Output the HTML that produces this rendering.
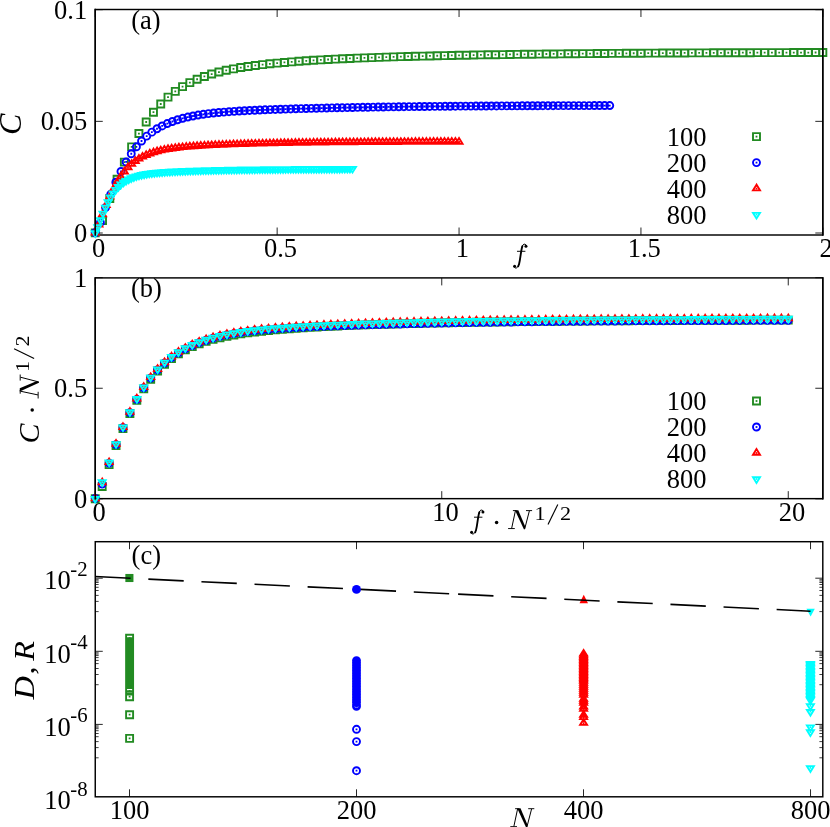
<!DOCTYPE html>
<html><head><meta charset="utf-8"><title>Figure</title>
<style>html,body{margin:0;padding:0;background:#fff;}body{width:830px;height:827px;overflow:hidden;font-family:"Liberation Serif",serif;}svg{display:block;will-change:transform;}.fig text{font-family:"Liberation Serif",serif;}</style>
</head><body>
<svg width="830" height="827" viewBox="0 0 830 827" class="fig" fill="#000">
<rect x="95.25" y="9.5" width="727.55" height="225.5" fill="none" stroke="#000" stroke-width="1.45"/>
<path d="M95.25 235.0v-7.5M95.25 9.5v7.5M277.15 235.0v-7.5M277.15 9.5v7.5M459.05 235.0v-7.5M459.05 9.5v7.5M640.95 235.0v-7.5M640.95 9.5v7.5M822.85 235.0v-7.5M822.85 9.5v7.5" stroke="#000" stroke-width="0.85" fill="none"/>
<path d="M95.25 233h7.5M822.8 233h-7.5M95.25 121.35h7.5M822.8 121.35h-7.5M95.25 9.7h7.5M822.8 9.7h-7.5" stroke="#000" stroke-width="0.85" fill="none"/>
<text x="98.55" y="257.3" text-anchor="middle" font-size="26.5"  >0</text>
<text x="280.45" y="257.3" text-anchor="middle" font-size="26.5"  >0.5</text>
<text x="462.35" y="257.3" text-anchor="middle" font-size="26.5"  >1</text>
<text x="644.25" y="257.3" text-anchor="middle" font-size="26.5"  >1.5</text>
<text x="826.15" y="257.3" text-anchor="middle" font-size="26.5"  >2</text>
<text x="87.2" y="241.9" text-anchor="end" font-size="26.5"  >0</text>
<text x="87.2" y="130.25" text-anchor="end" font-size="26.5"  >0.05</text>
<text x="87.2" y="18.6" text-anchor="end" font-size="26.5"  >0.1</text>
<text x="146" y="28.9" text-anchor="middle" font-size="26.5"  >(a)</text>
<path d="M91.75 229.39h7.0v7.0h-7.0zM99.03 217.08h7.0v7.0h-7.0zM106.3 194.95h7.0v7.0h-7.0zM113.58 175.7h7.0v7.0h-7.0zM120.85 158.6h7.0v7.0h-7.0zM128.13 143.4h7.0v7.0h-7.0zM135.41 130.06h7.0v7.0h-7.0zM142.68 118.52h7.0v7.0h-7.0zM149.96 108.71h7.0v7.0h-7.0zM157.23 100.48h7.0v7.0h-7.0zM164.51 93.61h7.0v7.0h-7.0zM171.79 87.89h7.0v7.0h-7.0zM179.06 83.12h7.0v7.0h-7.0zM186.34 79.13h7.0v7.0h-7.0zM193.61 75.77h7.0v7.0h-7.0zM200.89 72.94h7.0v7.0h-7.0zM208.17 70.55h7.0v7.0h-7.0zM215.44 68.53h7.0v7.0h-7.0zM222.72 66.81h7.0v7.0h-7.0zM229.99 65.34h7.0v7.0h-7.0zM237.27 64.07h7.0v7.0h-7.0zM244.55 62.96h7.0v7.0h-7.0zM251.82 61.97h7.0v7.0h-7.0zM259.1 61.1h7.0v7.0h-7.0zM266.37 60.31h7.0v7.0h-7.0zM273.65 59.6h7.0v7.0h-7.0zM280.93 58.94h7.0v7.0h-7.0zM288.2 58.34h7.0v7.0h-7.0zM295.48 57.79h7.0v7.0h-7.0zM302.75 57.28h7.0v7.0h-7.0zM310.03 56.81h7.0v7.0h-7.0zM317.31 56.38h7.0v7.0h-7.0zM324.58 55.98h7.0v7.0h-7.0zM331.86 55.6h7.0v7.0h-7.0zM339.13 55.26h7.0v7.0h-7.0zM346.41 54.93h7.0v7.0h-7.0zM353.69 54.63h7.0v7.0h-7.0zM360.96 54.35h7.0v7.0h-7.0zM368.24 54.09h7.0v7.0h-7.0zM375.51 53.84h7.0v7.0h-7.0zM382.79 53.6h7.0v7.0h-7.0zM390.07 53.38h7.0v7.0h-7.0zM397.34 53.17h7.0v7.0h-7.0zM404.62 52.97h7.0v7.0h-7.0zM411.89 52.78h7.0v7.0h-7.0zM419.17 52.6h7.0v7.0h-7.0zM426.45 52.43h7.0v7.0h-7.0zM433.72 52.26h7.0v7.0h-7.0zM441 52.11h7.0v7.0h-7.0zM448.27 51.96h7.0v7.0h-7.0zM455.55 51.81h7.0v7.0h-7.0zM462.83 51.68h7.0v7.0h-7.0zM470.1 51.55h7.0v7.0h-7.0zM477.38 51.42h7.0v7.0h-7.0zM484.65 51.3h7.0v7.0h-7.0zM491.93 51.19h7.0v7.0h-7.0zM499.21 51.08h7.0v7.0h-7.0zM506.48 50.97h7.0v7.0h-7.0zM513.76 50.87h7.0v7.0h-7.0zM521.03 50.78h7.0v7.0h-7.0zM528.31 50.68h7.0v7.0h-7.0zM535.59 50.6h7.0v7.0h-7.0zM542.86 50.51h7.0v7.0h-7.0zM550.14 50.43h7.0v7.0h-7.0zM557.41 50.35h7.0v7.0h-7.0zM564.69 50.28h7.0v7.0h-7.0zM571.97 50.21h7.0v7.0h-7.0zM579.24 50.14h7.0v7.0h-7.0zM586.52 50.08h7.0v7.0h-7.0zM593.79 50.02h7.0v7.0h-7.0zM601.07 49.96h7.0v7.0h-7.0zM608.35 49.9h7.0v7.0h-7.0zM615.62 49.85h7.0v7.0h-7.0zM622.9 49.8h7.0v7.0h-7.0zM630.17 49.75h7.0v7.0h-7.0zM637.45 49.7h7.0v7.0h-7.0zM644.73 49.65h7.0v7.0h-7.0zM652 49.61h7.0v7.0h-7.0zM659.28 49.57h7.0v7.0h-7.0zM666.55 49.53h7.0v7.0h-7.0zM673.83 49.49h7.0v7.0h-7.0zM681.11 49.45h7.0v7.0h-7.0zM688.38 49.42h7.0v7.0h-7.0zM695.66 49.39h7.0v7.0h-7.0zM702.93 49.35h7.0v7.0h-7.0zM710.21 49.32h7.0v7.0h-7.0zM717.49 49.3h7.0v7.0h-7.0zM724.76 49.27h7.0v7.0h-7.0zM732.04 49.24h7.0v7.0h-7.0zM739.31 49.21h7.0v7.0h-7.0zM746.59 49.19h7.0v7.0h-7.0zM753.87 49.17h7.0v7.0h-7.0zM761.14 49.14h7.0v7.0h-7.0zM768.42 49.12h7.0v7.0h-7.0zM775.69 49.1h7.0v7.0h-7.0zM782.97 49.08h7.0v7.0h-7.0zM790.25 49.06h7.0v7.0h-7.0zM797.52 49.05h7.0v7.0h-7.0zM804.8 49.03h7.0v7.0h-7.0zM812.07 49.01h7.0v7.0h-7.0zM819.35 49h7.0v7.0h-7.0z" fill="none" stroke="#228b22" stroke-width="1.9" stroke-linejoin="miter"/>
<path d="M94.35 231.99h1.8v1.8h-1.8zM101.63 219.68h1.8v1.8h-1.8zM108.9 197.55h1.8v1.8h-1.8zM116.18 178.3h1.8v1.8h-1.8zM123.45 161.2h1.8v1.8h-1.8zM130.73 146h1.8v1.8h-1.8zM138.01 132.66h1.8v1.8h-1.8zM145.28 121.12h1.8v1.8h-1.8zM152.56 111.31h1.8v1.8h-1.8zM159.83 103.08h1.8v1.8h-1.8zM167.11 96.21h1.8v1.8h-1.8zM174.39 90.49h1.8v1.8h-1.8zM181.66 85.72h1.8v1.8h-1.8zM188.94 81.73h1.8v1.8h-1.8zM196.21 78.37h1.8v1.8h-1.8zM203.49 75.54h1.8v1.8h-1.8zM210.77 73.15h1.8v1.8h-1.8zM218.04 71.13h1.8v1.8h-1.8zM225.32 69.41h1.8v1.8h-1.8zM232.59 67.94h1.8v1.8h-1.8zM239.87 66.67h1.8v1.8h-1.8zM247.15 65.56h1.8v1.8h-1.8zM254.42 64.57h1.8v1.8h-1.8zM261.7 63.7h1.8v1.8h-1.8zM268.97 62.91h1.8v1.8h-1.8zM276.25 62.2h1.8v1.8h-1.8zM283.53 61.54h1.8v1.8h-1.8zM290.8 60.94h1.8v1.8h-1.8zM298.08 60.39h1.8v1.8h-1.8zM305.35 59.88h1.8v1.8h-1.8zM312.63 59.41h1.8v1.8h-1.8zM319.91 58.98h1.8v1.8h-1.8zM327.18 58.58h1.8v1.8h-1.8zM334.46 58.2h1.8v1.8h-1.8zM341.73 57.86h1.8v1.8h-1.8zM349.01 57.53h1.8v1.8h-1.8zM356.29 57.23h1.8v1.8h-1.8zM363.56 56.95h1.8v1.8h-1.8zM370.84 56.69h1.8v1.8h-1.8zM378.11 56.44h1.8v1.8h-1.8zM385.39 56.2h1.8v1.8h-1.8zM392.67 55.98h1.8v1.8h-1.8zM399.94 55.77h1.8v1.8h-1.8zM407.22 55.57h1.8v1.8h-1.8zM414.49 55.38h1.8v1.8h-1.8zM421.77 55.2h1.8v1.8h-1.8zM429.05 55.03h1.8v1.8h-1.8zM436.32 54.86h1.8v1.8h-1.8zM443.6 54.71h1.8v1.8h-1.8zM450.87 54.56h1.8v1.8h-1.8zM458.15 54.41h1.8v1.8h-1.8zM465.43 54.28h1.8v1.8h-1.8zM472.7 54.15h1.8v1.8h-1.8zM479.98 54.02h1.8v1.8h-1.8zM487.25 53.9h1.8v1.8h-1.8zM494.53 53.79h1.8v1.8h-1.8zM501.81 53.68h1.8v1.8h-1.8zM509.08 53.57h1.8v1.8h-1.8zM516.36 53.47h1.8v1.8h-1.8zM523.63 53.38h1.8v1.8h-1.8zM530.91 53.28h1.8v1.8h-1.8zM538.19 53.2h1.8v1.8h-1.8zM545.46 53.11h1.8v1.8h-1.8zM552.74 53.03h1.8v1.8h-1.8zM560.01 52.95h1.8v1.8h-1.8zM567.29 52.88h1.8v1.8h-1.8zM574.57 52.81h1.8v1.8h-1.8zM581.84 52.74h1.8v1.8h-1.8zM589.12 52.68h1.8v1.8h-1.8zM596.39 52.62h1.8v1.8h-1.8zM603.67 52.56h1.8v1.8h-1.8zM610.95 52.5h1.8v1.8h-1.8zM618.22 52.45h1.8v1.8h-1.8zM625.5 52.4h1.8v1.8h-1.8zM632.77 52.35h1.8v1.8h-1.8zM640.05 52.3h1.8v1.8h-1.8zM647.33 52.25h1.8v1.8h-1.8zM654.6 52.21h1.8v1.8h-1.8zM661.88 52.17h1.8v1.8h-1.8zM669.15 52.13h1.8v1.8h-1.8zM676.43 52.09h1.8v1.8h-1.8zM683.71 52.05h1.8v1.8h-1.8zM690.98 52.02h1.8v1.8h-1.8zM698.26 51.99h1.8v1.8h-1.8zM705.53 51.95h1.8v1.8h-1.8zM712.81 51.92h1.8v1.8h-1.8zM720.09 51.9h1.8v1.8h-1.8zM727.36 51.87h1.8v1.8h-1.8zM734.64 51.84h1.8v1.8h-1.8zM741.91 51.81h1.8v1.8h-1.8zM749.19 51.79h1.8v1.8h-1.8zM756.47 51.77h1.8v1.8h-1.8zM763.74 51.74h1.8v1.8h-1.8zM771.02 51.72h1.8v1.8h-1.8zM778.29 51.7h1.8v1.8h-1.8zM785.57 51.68h1.8v1.8h-1.8zM792.85 51.66h1.8v1.8h-1.8zM800.12 51.65h1.8v1.8h-1.8zM807.4 51.63h1.8v1.8h-1.8zM814.67 51.61h1.8v1.8h-1.8zM821.95 51.6h1.8v1.8h-1.8z" fill="#228b22"/>
<path d="M91.75 232.77a3.5 3.5 0 1 0 7.0 0a3.5 3.5 0 1 0 -7.0 0zM96.89 222.45a3.5 3.5 0 1 0 7.0 0a3.5 3.5 0 1 0 -7.0 0zM102.04 207.59a3.5 3.5 0 1 0 7.0 0a3.5 3.5 0 1 0 -7.0 0zM107.18 194.28a3.5 3.5 0 1 0 7.0 0a3.5 3.5 0 1 0 -7.0 0zM112.33 182.25a3.5 3.5 0 1 0 7.0 0a3.5 3.5 0 1 0 -7.0 0zM117.47 171.46a3.5 3.5 0 1 0 7.0 0a3.5 3.5 0 1 0 -7.0 0zM122.62 161.96a3.5 3.5 0 1 0 7.0 0a3.5 3.5 0 1 0 -7.0 0zM127.76 153.76a3.5 3.5 0 1 0 7.0 0a3.5 3.5 0 1 0 -7.0 0zM132.91 146.8a3.5 3.5 0 1 0 7.0 0a3.5 3.5 0 1 0 -7.0 0zM138.05 140.98a3.5 3.5 0 1 0 7.0 0a3.5 3.5 0 1 0 -7.0 0zM143.2 136.15a3.5 3.5 0 1 0 7.0 0a3.5 3.5 0 1 0 -7.0 0zM148.34 132.13a3.5 3.5 0 1 0 7.0 0a3.5 3.5 0 1 0 -7.0 0zM153.49 128.77a3.5 3.5 0 1 0 7.0 0a3.5 3.5 0 1 0 -7.0 0zM158.63 125.93a3.5 3.5 0 1 0 7.0 0a3.5 3.5 0 1 0 -7.0 0zM163.78 123.53a3.5 3.5 0 1 0 7.0 0a3.5 3.5 0 1 0 -7.0 0zM168.92 121.49a3.5 3.5 0 1 0 7.0 0a3.5 3.5 0 1 0 -7.0 0zM174.07 119.76a3.5 3.5 0 1 0 7.0 0a3.5 3.5 0 1 0 -7.0 0zM179.21 118.29a3.5 3.5 0 1 0 7.0 0a3.5 3.5 0 1 0 -7.0 0zM184.36 117.04a3.5 3.5 0 1 0 7.0 0a3.5 3.5 0 1 0 -7.0 0zM189.5 115.98a3.5 3.5 0 1 0 7.0 0a3.5 3.5 0 1 0 -7.0 0zM194.65 115.07a3.5 3.5 0 1 0 7.0 0a3.5 3.5 0 1 0 -7.0 0zM199.79 114.29a3.5 3.5 0 1 0 7.0 0a3.5 3.5 0 1 0 -7.0 0zM204.94 113.62a3.5 3.5 0 1 0 7.0 0a3.5 3.5 0 1 0 -7.0 0zM210.08 113.04a3.5 3.5 0 1 0 7.0 0a3.5 3.5 0 1 0 -7.0 0zM215.23 112.53a3.5 3.5 0 1 0 7.0 0a3.5 3.5 0 1 0 -7.0 0zM220.37 112.08a3.5 3.5 0 1 0 7.0 0a3.5 3.5 0 1 0 -7.0 0zM225.52 111.69a3.5 3.5 0 1 0 7.0 0a3.5 3.5 0 1 0 -7.0 0zM230.66 111.33a3.5 3.5 0 1 0 7.0 0a3.5 3.5 0 1 0 -7.0 0zM235.81 111.02a3.5 3.5 0 1 0 7.0 0a3.5 3.5 0 1 0 -7.0 0zM240.95 110.73a3.5 3.5 0 1 0 7.0 0a3.5 3.5 0 1 0 -7.0 0zM246.1 110.47a3.5 3.5 0 1 0 7.0 0a3.5 3.5 0 1 0 -7.0 0zM251.24 110.23a3.5 3.5 0 1 0 7.0 0a3.5 3.5 0 1 0 -7.0 0zM256.39 110.02a3.5 3.5 0 1 0 7.0 0a3.5 3.5 0 1 0 -7.0 0zM261.53 109.81a3.5 3.5 0 1 0 7.0 0a3.5 3.5 0 1 0 -7.0 0zM266.68 109.62a3.5 3.5 0 1 0 7.0 0a3.5 3.5 0 1 0 -7.0 0zM271.82 109.44a3.5 3.5 0 1 0 7.0 0a3.5 3.5 0 1 0 -7.0 0zM276.97 109.27a3.5 3.5 0 1 0 7.0 0a3.5 3.5 0 1 0 -7.0 0zM282.11 109.11a3.5 3.5 0 1 0 7.0 0a3.5 3.5 0 1 0 -7.0 0zM287.26 108.96a3.5 3.5 0 1 0 7.0 0a3.5 3.5 0 1 0 -7.0 0zM292.4 108.81a3.5 3.5 0 1 0 7.0 0a3.5 3.5 0 1 0 -7.0 0zM297.55 108.67a3.5 3.5 0 1 0 7.0 0a3.5 3.5 0 1 0 -7.0 0zM302.69 108.53a3.5 3.5 0 1 0 7.0 0a3.5 3.5 0 1 0 -7.0 0zM307.84 108.4a3.5 3.5 0 1 0 7.0 0a3.5 3.5 0 1 0 -7.0 0zM312.98 108.27a3.5 3.5 0 1 0 7.0 0a3.5 3.5 0 1 0 -7.0 0zM318.13 108.15a3.5 3.5 0 1 0 7.0 0a3.5 3.5 0 1 0 -7.0 0zM323.27 108.04a3.5 3.5 0 1 0 7.0 0a3.5 3.5 0 1 0 -7.0 0zM328.42 107.92a3.5 3.5 0 1 0 7.0 0a3.5 3.5 0 1 0 -7.0 0zM333.56 107.81a3.5 3.5 0 1 0 7.0 0a3.5 3.5 0 1 0 -7.0 0zM338.71 107.71a3.5 3.5 0 1 0 7.0 0a3.5 3.5 0 1 0 -7.0 0zM343.85 107.61a3.5 3.5 0 1 0 7.0 0a3.5 3.5 0 1 0 -7.0 0zM349 107.51a3.5 3.5 0 1 0 7.0 0a3.5 3.5 0 1 0 -7.0 0zM354.14 107.41a3.5 3.5 0 1 0 7.0 0a3.5 3.5 0 1 0 -7.0 0zM359.29 107.32a3.5 3.5 0 1 0 7.0 0a3.5 3.5 0 1 0 -7.0 0zM364.43 107.24a3.5 3.5 0 1 0 7.0 0a3.5 3.5 0 1 0 -7.0 0zM369.58 107.15a3.5 3.5 0 1 0 7.0 0a3.5 3.5 0 1 0 -7.0 0zM374.72 107.07a3.5 3.5 0 1 0 7.0 0a3.5 3.5 0 1 0 -7.0 0zM379.86 107a3.5 3.5 0 1 0 7.0 0a3.5 3.5 0 1 0 -7.0 0zM385.01 106.92a3.5 3.5 0 1 0 7.0 0a3.5 3.5 0 1 0 -7.0 0zM390.15 106.85a3.5 3.5 0 1 0 7.0 0a3.5 3.5 0 1 0 -7.0 0zM395.3 106.79a3.5 3.5 0 1 0 7.0 0a3.5 3.5 0 1 0 -7.0 0zM400.44 106.72a3.5 3.5 0 1 0 7.0 0a3.5 3.5 0 1 0 -7.0 0zM405.59 106.66a3.5 3.5 0 1 0 7.0 0a3.5 3.5 0 1 0 -7.0 0zM410.73 106.6a3.5 3.5 0 1 0 7.0 0a3.5 3.5 0 1 0 -7.0 0zM415.88 106.54a3.5 3.5 0 1 0 7.0 0a3.5 3.5 0 1 0 -7.0 0zM421.02 106.49a3.5 3.5 0 1 0 7.0 0a3.5 3.5 0 1 0 -7.0 0zM426.17 106.44a3.5 3.5 0 1 0 7.0 0a3.5 3.5 0 1 0 -7.0 0zM431.31 106.39a3.5 3.5 0 1 0 7.0 0a3.5 3.5 0 1 0 -7.0 0zM436.46 106.34a3.5 3.5 0 1 0 7.0 0a3.5 3.5 0 1 0 -7.0 0zM441.6 106.3a3.5 3.5 0 1 0 7.0 0a3.5 3.5 0 1 0 -7.0 0zM446.75 106.25a3.5 3.5 0 1 0 7.0 0a3.5 3.5 0 1 0 -7.0 0zM451.89 106.21a3.5 3.5 0 1 0 7.0 0a3.5 3.5 0 1 0 -7.0 0zM457.04 106.17a3.5 3.5 0 1 0 7.0 0a3.5 3.5 0 1 0 -7.0 0zM462.18 106.13a3.5 3.5 0 1 0 7.0 0a3.5 3.5 0 1 0 -7.0 0zM467.33 106.1a3.5 3.5 0 1 0 7.0 0a3.5 3.5 0 1 0 -7.0 0zM472.47 106.06a3.5 3.5 0 1 0 7.0 0a3.5 3.5 0 1 0 -7.0 0zM477.62 106.03a3.5 3.5 0 1 0 7.0 0a3.5 3.5 0 1 0 -7.0 0zM482.76 106a3.5 3.5 0 1 0 7.0 0a3.5 3.5 0 1 0 -7.0 0zM487.91 105.96a3.5 3.5 0 1 0 7.0 0a3.5 3.5 0 1 0 -7.0 0zM493.05 105.94a3.5 3.5 0 1 0 7.0 0a3.5 3.5 0 1 0 -7.0 0zM498.2 105.91a3.5 3.5 0 1 0 7.0 0a3.5 3.5 0 1 0 -7.0 0zM503.34 105.88a3.5 3.5 0 1 0 7.0 0a3.5 3.5 0 1 0 -7.0 0zM508.49 105.85a3.5 3.5 0 1 0 7.0 0a3.5 3.5 0 1 0 -7.0 0zM513.63 105.83a3.5 3.5 0 1 0 7.0 0a3.5 3.5 0 1 0 -7.0 0zM518.78 105.81a3.5 3.5 0 1 0 7.0 0a3.5 3.5 0 1 0 -7.0 0zM523.92 105.78a3.5 3.5 0 1 0 7.0 0a3.5 3.5 0 1 0 -7.0 0zM529.07 105.76a3.5 3.5 0 1 0 7.0 0a3.5 3.5 0 1 0 -7.0 0zM534.21 105.74a3.5 3.5 0 1 0 7.0 0a3.5 3.5 0 1 0 -7.0 0zM539.36 105.72a3.5 3.5 0 1 0 7.0 0a3.5 3.5 0 1 0 -7.0 0zM544.5 105.7a3.5 3.5 0 1 0 7.0 0a3.5 3.5 0 1 0 -7.0 0zM549.65 105.69a3.5 3.5 0 1 0 7.0 0a3.5 3.5 0 1 0 -7.0 0zM554.79 105.67a3.5 3.5 0 1 0 7.0 0a3.5 3.5 0 1 0 -7.0 0zM559.94 105.65a3.5 3.5 0 1 0 7.0 0a3.5 3.5 0 1 0 -7.0 0zM565.08 105.64a3.5 3.5 0 1 0 7.0 0a3.5 3.5 0 1 0 -7.0 0zM570.23 105.62a3.5 3.5 0 1 0 7.0 0a3.5 3.5 0 1 0 -7.0 0zM575.37 105.61a3.5 3.5 0 1 0 7.0 0a3.5 3.5 0 1 0 -7.0 0zM580.52 105.59a3.5 3.5 0 1 0 7.0 0a3.5 3.5 0 1 0 -7.0 0zM585.66 105.58a3.5 3.5 0 1 0 7.0 0a3.5 3.5 0 1 0 -7.0 0zM590.81 105.57a3.5 3.5 0 1 0 7.0 0a3.5 3.5 0 1 0 -7.0 0zM595.95 105.55a3.5 3.5 0 1 0 7.0 0a3.5 3.5 0 1 0 -7.0 0zM601.1 105.54a3.5 3.5 0 1 0 7.0 0a3.5 3.5 0 1 0 -7.0 0zM606.24 105.53a3.5 3.5 0 1 0 7.0 0a3.5 3.5 0 1 0 -7.0 0z" fill="none" stroke="#0000ff" stroke-width="1.9" stroke-linejoin="miter"/>
<path d="M94.35 231.87h1.8v1.8h-1.8zM99.49 221.55h1.8v1.8h-1.8zM104.64 206.69h1.8v1.8h-1.8zM109.78 193.38h1.8v1.8h-1.8zM114.93 181.35h1.8v1.8h-1.8zM120.07 170.56h1.8v1.8h-1.8zM125.22 161.06h1.8v1.8h-1.8zM130.36 152.86h1.8v1.8h-1.8zM135.51 145.9h1.8v1.8h-1.8zM140.65 140.08h1.8v1.8h-1.8zM145.8 135.25h1.8v1.8h-1.8zM150.94 131.23h1.8v1.8h-1.8zM156.09 127.87h1.8v1.8h-1.8zM161.23 125.03h1.8v1.8h-1.8zM166.38 122.63h1.8v1.8h-1.8zM171.52 120.59h1.8v1.8h-1.8zM176.67 118.86h1.8v1.8h-1.8zM181.81 117.39h1.8v1.8h-1.8zM186.96 116.14h1.8v1.8h-1.8zM192.1 115.08h1.8v1.8h-1.8zM197.25 114.17h1.8v1.8h-1.8zM202.39 113.39h1.8v1.8h-1.8zM207.54 112.72h1.8v1.8h-1.8zM212.68 112.14h1.8v1.8h-1.8zM217.83 111.63h1.8v1.8h-1.8zM222.97 111.18h1.8v1.8h-1.8zM228.12 110.79h1.8v1.8h-1.8zM233.26 110.43h1.8v1.8h-1.8zM238.41 110.12h1.8v1.8h-1.8zM243.55 109.83h1.8v1.8h-1.8zM248.7 109.57h1.8v1.8h-1.8zM253.84 109.33h1.8v1.8h-1.8zM258.99 109.12h1.8v1.8h-1.8zM264.13 108.91h1.8v1.8h-1.8zM269.28 108.72h1.8v1.8h-1.8zM274.42 108.54h1.8v1.8h-1.8zM279.57 108.37h1.8v1.8h-1.8zM284.71 108.21h1.8v1.8h-1.8zM289.86 108.06h1.8v1.8h-1.8zM295 107.91h1.8v1.8h-1.8zM300.15 107.77h1.8v1.8h-1.8zM305.29 107.63h1.8v1.8h-1.8zM310.44 107.5h1.8v1.8h-1.8zM315.58 107.37h1.8v1.8h-1.8zM320.73 107.25h1.8v1.8h-1.8zM325.87 107.14h1.8v1.8h-1.8zM331.02 107.02h1.8v1.8h-1.8zM336.16 106.91h1.8v1.8h-1.8zM341.31 106.81h1.8v1.8h-1.8zM346.45 106.71h1.8v1.8h-1.8zM351.6 106.61h1.8v1.8h-1.8zM356.74 106.51h1.8v1.8h-1.8zM361.89 106.42h1.8v1.8h-1.8zM367.03 106.34h1.8v1.8h-1.8zM372.18 106.25h1.8v1.8h-1.8zM377.32 106.17h1.8v1.8h-1.8zM382.46 106.1h1.8v1.8h-1.8zM387.61 106.02h1.8v1.8h-1.8zM392.75 105.95h1.8v1.8h-1.8zM397.9 105.89h1.8v1.8h-1.8zM403.04 105.82h1.8v1.8h-1.8zM408.19 105.76h1.8v1.8h-1.8zM413.33 105.7h1.8v1.8h-1.8zM418.48 105.64h1.8v1.8h-1.8zM423.62 105.59h1.8v1.8h-1.8zM428.77 105.54h1.8v1.8h-1.8zM433.91 105.49h1.8v1.8h-1.8zM439.06 105.44h1.8v1.8h-1.8zM444.2 105.4h1.8v1.8h-1.8zM449.35 105.35h1.8v1.8h-1.8zM454.49 105.31h1.8v1.8h-1.8zM459.64 105.27h1.8v1.8h-1.8zM464.78 105.23h1.8v1.8h-1.8zM469.93 105.2h1.8v1.8h-1.8zM475.07 105.16h1.8v1.8h-1.8zM480.22 105.13h1.8v1.8h-1.8zM485.36 105.1h1.8v1.8h-1.8zM490.51 105.06h1.8v1.8h-1.8zM495.65 105.04h1.8v1.8h-1.8zM500.8 105.01h1.8v1.8h-1.8zM505.94 104.98h1.8v1.8h-1.8zM511.09 104.95h1.8v1.8h-1.8zM516.23 104.93h1.8v1.8h-1.8zM521.38 104.91h1.8v1.8h-1.8zM526.52 104.88h1.8v1.8h-1.8zM531.67 104.86h1.8v1.8h-1.8zM536.81 104.84h1.8v1.8h-1.8zM541.96 104.82h1.8v1.8h-1.8zM547.1 104.8h1.8v1.8h-1.8zM552.25 104.79h1.8v1.8h-1.8zM557.39 104.77h1.8v1.8h-1.8zM562.54 104.75h1.8v1.8h-1.8zM567.68 104.74h1.8v1.8h-1.8zM572.83 104.72h1.8v1.8h-1.8zM577.97 104.71h1.8v1.8h-1.8zM583.12 104.69h1.8v1.8h-1.8zM588.26 104.68h1.8v1.8h-1.8zM593.41 104.67h1.8v1.8h-1.8zM598.55 104.65h1.8v1.8h-1.8zM603.7 104.64h1.8v1.8h-1.8zM608.84 104.63h1.8v1.8h-1.8z" fill="#0000ff"/>
<path d="M95.25 228.99l-3.5 5.67h7zM98.89 220.88l-3.5 5.67h7zM102.53 210.71l-3.5 5.67h7zM106.16 201.41l-3.5 5.67h7zM109.8 192.92l-3.5 5.67h7zM113.44 185.28l-3.5 5.67h7zM117.08 178.54l-3.5 5.67h7zM120.72 172.71l-3.5 5.67h7zM124.35 167.77l-3.5 5.67h7zM127.99 163.64l-3.5 5.67h7zM131.63 160.22l-3.5 5.67h7zM135.27 157.37l-3.5 5.67h7zM138.91 154.99l-3.5 5.67h7zM142.54 152.99l-3.5 5.67h7zM146.18 151.29l-3.5 5.67h7zM149.82 149.86l-3.5 5.67h7zM153.46 148.64l-3.5 5.67h7zM157.1 147.6l-3.5 5.67h7zM160.73 146.72l-3.5 5.67h7zM164.37 145.97l-3.5 5.67h7zM168.01 145.32l-3.5 5.67h7zM171.65 144.76l-3.5 5.67h7zM175.29 144.28l-3.5 5.67h7zM178.92 143.85l-3.5 5.67h7zM182.56 143.48l-3.5 5.67h7zM186.2 143.14l-3.5 5.67h7zM189.84 142.84l-3.5 5.67h7zM193.48 142.57l-3.5 5.67h7zM197.11 142.32l-3.5 5.67h7zM200.75 142.09l-3.5 5.67h7zM204.39 141.88l-3.5 5.67h7zM208.03 141.68l-3.5 5.67h7zM211.67 141.5l-3.5 5.67h7zM215.3 141.33l-3.5 5.67h7zM218.94 141.17l-3.5 5.67h7zM222.58 141.02l-3.5 5.67h7zM226.22 140.88l-3.5 5.67h7zM229.86 140.74l-3.5 5.67h7zM233.49 140.61l-3.5 5.67h7zM237.13 140.49l-3.5 5.67h7zM240.77 140.38l-3.5 5.67h7zM244.41 140.27l-3.5 5.67h7zM248.05 140.16l-3.5 5.67h7zM251.68 140.06l-3.5 5.67h7zM255.32 139.97l-3.5 5.67h7zM258.96 139.88l-3.5 5.67h7zM262.6 139.79l-3.5 5.67h7zM266.24 139.71l-3.5 5.67h7zM269.87 139.63l-3.5 5.67h7zM273.51 139.55l-3.5 5.67h7zM277.15 139.48l-3.5 5.67h7zM280.79 139.41l-3.5 5.67h7zM284.43 139.34l-3.5 5.67h7zM288.06 139.28l-3.5 5.67h7zM291.7 139.22l-3.5 5.67h7zM295.34 139.16l-3.5 5.67h7zM298.98 139.11l-3.5 5.67h7zM302.62 139.06l-3.5 5.67h7zM306.25 139.01l-3.5 5.67h7zM309.89 138.96l-3.5 5.67h7zM313.53 138.91l-3.5 5.67h7zM317.17 138.87l-3.5 5.67h7zM320.81 138.82l-3.5 5.67h7zM324.44 138.78l-3.5 5.67h7zM328.08 138.74l-3.5 5.67h7zM331.72 138.71l-3.5 5.67h7zM335.36 138.67l-3.5 5.67h7zM339 138.64l-3.5 5.67h7zM342.63 138.61l-3.5 5.67h7zM346.27 138.57l-3.5 5.67h7zM349.91 138.54l-3.5 5.67h7zM353.55 138.52l-3.5 5.67h7zM357.19 138.49l-3.5 5.67h7zM360.82 138.46l-3.5 5.67h7zM364.46 138.44l-3.5 5.67h7zM368.1 138.41l-3.5 5.67h7zM371.74 138.39l-3.5 5.67h7zM375.38 138.37l-3.5 5.67h7zM379.01 138.35l-3.5 5.67h7zM382.65 138.33l-3.5 5.67h7zM386.29 138.31l-3.5 5.67h7zM389.93 138.29l-3.5 5.67h7zM393.57 138.27l-3.5 5.67h7zM397.2 138.26l-3.5 5.67h7zM400.84 138.24l-3.5 5.67h7zM404.48 138.22l-3.5 5.67h7zM408.12 138.21l-3.5 5.67h7zM411.76 138.2l-3.5 5.67h7zM415.39 138.18l-3.5 5.67h7zM419.03 138.17l-3.5 5.67h7zM422.67 138.16l-3.5 5.67h7zM426.31 138.15l-3.5 5.67h7zM429.95 138.13l-3.5 5.67h7zM433.58 138.12l-3.5 5.67h7zM437.22 138.11l-3.5 5.67h7zM440.86 138.1l-3.5 5.67h7zM444.5 138.09l-3.5 5.67h7zM448.14 138.08l-3.5 5.67h7zM451.77 138.08l-3.5 5.67h7zM455.41 138.07l-3.5 5.67h7zM459.05 138.06l-3.5 5.67h7z" fill="none" stroke="#ff0000" stroke-width="1.9" stroke-linejoin="miter"/>
<path d="M94.35 232.01h1.8v1.8h-1.8zM97.99 223.9h1.8v1.8h-1.8zM101.63 213.73h1.8v1.8h-1.8zM105.26 204.43h1.8v1.8h-1.8zM108.9 195.94h1.8v1.8h-1.8zM112.54 188.3h1.8v1.8h-1.8zM116.18 181.56h1.8v1.8h-1.8zM119.82 175.73h1.8v1.8h-1.8zM123.45 170.79h1.8v1.8h-1.8zM127.09 166.66h1.8v1.8h-1.8zM130.73 163.24h1.8v1.8h-1.8zM134.37 160.39h1.8v1.8h-1.8zM138.01 158.01h1.8v1.8h-1.8zM141.64 156.01h1.8v1.8h-1.8zM145.28 154.31h1.8v1.8h-1.8zM148.92 152.88h1.8v1.8h-1.8zM152.56 151.66h1.8v1.8h-1.8zM156.2 150.62h1.8v1.8h-1.8zM159.83 149.74h1.8v1.8h-1.8zM163.47 148.99h1.8v1.8h-1.8zM167.11 148.34h1.8v1.8h-1.8zM170.75 147.78h1.8v1.8h-1.8zM174.39 147.3h1.8v1.8h-1.8zM178.02 146.87h1.8v1.8h-1.8zM181.66 146.5h1.8v1.8h-1.8zM185.3 146.16h1.8v1.8h-1.8zM188.94 145.86h1.8v1.8h-1.8zM192.58 145.59h1.8v1.8h-1.8zM196.21 145.34h1.8v1.8h-1.8zM199.85 145.11h1.8v1.8h-1.8zM203.49 144.9h1.8v1.8h-1.8zM207.13 144.7h1.8v1.8h-1.8zM210.77 144.52h1.8v1.8h-1.8zM214.4 144.35h1.8v1.8h-1.8zM218.04 144.19h1.8v1.8h-1.8zM221.68 144.04h1.8v1.8h-1.8zM225.32 143.9h1.8v1.8h-1.8zM228.96 143.76h1.8v1.8h-1.8zM232.59 143.63h1.8v1.8h-1.8zM236.23 143.51h1.8v1.8h-1.8zM239.87 143.4h1.8v1.8h-1.8zM243.51 143.29h1.8v1.8h-1.8zM247.15 143.18h1.8v1.8h-1.8zM250.78 143.08h1.8v1.8h-1.8zM254.42 142.99h1.8v1.8h-1.8zM258.06 142.9h1.8v1.8h-1.8zM261.7 142.81h1.8v1.8h-1.8zM265.34 142.73h1.8v1.8h-1.8zM268.97 142.65h1.8v1.8h-1.8zM272.61 142.57h1.8v1.8h-1.8zM276.25 142.5h1.8v1.8h-1.8zM279.89 142.43h1.8v1.8h-1.8zM283.53 142.36h1.8v1.8h-1.8zM287.16 142.3h1.8v1.8h-1.8zM290.8 142.24h1.8v1.8h-1.8zM294.44 142.18h1.8v1.8h-1.8zM298.08 142.13h1.8v1.8h-1.8zM301.72 142.08h1.8v1.8h-1.8zM305.35 142.03h1.8v1.8h-1.8zM308.99 141.98h1.8v1.8h-1.8zM312.63 141.93h1.8v1.8h-1.8zM316.27 141.89h1.8v1.8h-1.8zM319.91 141.84h1.8v1.8h-1.8zM323.54 141.8h1.8v1.8h-1.8zM327.18 141.76h1.8v1.8h-1.8zM330.82 141.73h1.8v1.8h-1.8zM334.46 141.69h1.8v1.8h-1.8zM338.1 141.66h1.8v1.8h-1.8zM341.73 141.63h1.8v1.8h-1.8zM345.37 141.59h1.8v1.8h-1.8zM349.01 141.56h1.8v1.8h-1.8zM352.65 141.54h1.8v1.8h-1.8zM356.29 141.51h1.8v1.8h-1.8zM359.92 141.48h1.8v1.8h-1.8zM363.56 141.46h1.8v1.8h-1.8zM367.2 141.43h1.8v1.8h-1.8zM370.84 141.41h1.8v1.8h-1.8zM374.48 141.39h1.8v1.8h-1.8zM378.11 141.37h1.8v1.8h-1.8zM381.75 141.35h1.8v1.8h-1.8zM385.39 141.33h1.8v1.8h-1.8zM389.03 141.31h1.8v1.8h-1.8zM392.67 141.29h1.8v1.8h-1.8zM396.3 141.28h1.8v1.8h-1.8zM399.94 141.26h1.8v1.8h-1.8zM403.58 141.24h1.8v1.8h-1.8zM407.22 141.23h1.8v1.8h-1.8zM410.86 141.22h1.8v1.8h-1.8zM414.49 141.2h1.8v1.8h-1.8zM418.13 141.19h1.8v1.8h-1.8zM421.77 141.18h1.8v1.8h-1.8zM425.41 141.17h1.8v1.8h-1.8zM429.05 141.15h1.8v1.8h-1.8zM432.68 141.14h1.8v1.8h-1.8zM436.32 141.13h1.8v1.8h-1.8zM439.96 141.12h1.8v1.8h-1.8zM443.6 141.11h1.8v1.8h-1.8zM447.24 141.1h1.8v1.8h-1.8zM450.87 141.1h1.8v1.8h-1.8zM454.51 141.09h1.8v1.8h-1.8zM458.15 141.08h1.8v1.8h-1.8z" fill="#ff0000"/>
<path d="M95.25 236.86l-3.5 -5.67h7zM97.82 230.95l-3.5 -5.67h7zM100.39 223.85l-3.5 -5.67h7zM102.97 217.31l-3.5 -5.67h7zM105.54 211.33l-3.5 -5.67h7zM108.11 205.93l-3.5 -5.67h7zM110.68 201.17l-3.5 -5.67h7zM113.26 197.05l-3.5 -5.67h7zM115.83 193.56l-3.5 -5.67h7zM118.4 190.64l-3.5 -5.67h7zM120.97 188.21l-3.5 -5.67h7zM123.55 186.2l-3.5 -5.67h7zM126.12 184.52l-3.5 -5.67h7zM128.69 183.1l-3.5 -5.67h7zM131.26 181.9l-3.5 -5.67h7zM133.84 180.88l-3.5 -5.67h7zM136.41 180.02l-3.5 -5.67h7zM138.98 179.29l-3.5 -5.67h7zM141.55 178.66l-3.5 -5.67h7zM144.13 178.13l-3.5 -5.67h7zM146.7 177.68l-3.5 -5.67h7zM149.27 177.28l-3.5 -5.67h7zM151.84 176.94l-3.5 -5.67h7zM154.42 176.64l-3.5 -5.67h7zM156.99 176.37l-3.5 -5.67h7zM159.56 176.13l-3.5 -5.67h7zM162.13 175.92l-3.5 -5.67h7zM164.71 175.73l-3.5 -5.67h7zM167.28 175.55l-3.5 -5.67h7zM169.85 175.39l-3.5 -5.67h7zM172.42 175.24l-3.5 -5.67h7zM175 175.1l-3.5 -5.67h7zM177.57 174.97l-3.5 -5.67h7zM180.14 174.85l-3.5 -5.67h7zM182.71 174.74l-3.5 -5.67h7zM185.29 174.63l-3.5 -5.67h7zM187.86 174.53l-3.5 -5.67h7zM190.43 174.44l-3.5 -5.67h7zM193 174.35l-3.5 -5.67h7zM195.58 174.26l-3.5 -5.67h7zM198.15 174.18l-3.5 -5.67h7zM200.72 174.1l-3.5 -5.67h7zM203.29 174.03l-3.5 -5.67h7zM205.87 173.96l-3.5 -5.67h7zM208.44 173.89l-3.5 -5.67h7zM211.01 173.82l-3.5 -5.67h7zM213.58 173.76l-3.5 -5.67h7zM216.16 173.7l-3.5 -5.67h7zM218.73 173.65l-3.5 -5.67h7zM221.3 173.6l-3.5 -5.67h7zM223.87 173.54l-3.5 -5.67h7zM226.45 173.5l-3.5 -5.67h7zM229.02 173.45l-3.5 -5.67h7zM231.59 173.4l-3.5 -5.67h7zM234.16 173.36l-3.5 -5.67h7zM236.73 173.32l-3.5 -5.67h7zM239.31 173.28l-3.5 -5.67h7zM241.88 173.24l-3.5 -5.67h7zM244.45 173.21l-3.5 -5.67h7zM247.02 173.17l-3.5 -5.67h7zM249.6 173.14l-3.5 -5.67h7zM252.17 173.11l-3.5 -5.67h7zM254.74 173.08l-3.5 -5.67h7zM257.31 173.05l-3.5 -5.67h7zM259.89 173.02l-3.5 -5.67h7zM262.46 173l-3.5 -5.67h7zM265.03 172.97l-3.5 -5.67h7zM267.6 172.95l-3.5 -5.67h7zM270.18 172.93l-3.5 -5.67h7zM272.75 172.9l-3.5 -5.67h7zM275.32 172.88l-3.5 -5.67h7zM277.89 172.86l-3.5 -5.67h7zM280.47 172.84l-3.5 -5.67h7zM283.04 172.82l-3.5 -5.67h7zM285.61 172.81l-3.5 -5.67h7zM288.18 172.79l-3.5 -5.67h7zM290.76 172.77l-3.5 -5.67h7zM293.33 172.76l-3.5 -5.67h7zM295.9 172.74l-3.5 -5.67h7zM298.47 172.73l-3.5 -5.67h7zM301.05 172.72l-3.5 -5.67h7zM303.62 172.7l-3.5 -5.67h7zM306.19 172.69l-3.5 -5.67h7zM308.76 172.68l-3.5 -5.67h7zM311.34 172.67l-3.5 -5.67h7zM313.91 172.66l-3.5 -5.67h7zM316.48 172.65l-3.5 -5.67h7zM319.05 172.64l-3.5 -5.67h7zM321.63 172.63l-3.5 -5.67h7zM324.2 172.62l-3.5 -5.67h7zM326.77 172.61l-3.5 -5.67h7zM329.34 172.6l-3.5 -5.67h7zM331.92 172.59l-3.5 -5.67h7zM334.49 172.58l-3.5 -5.67h7zM337.06 172.58l-3.5 -5.67h7zM339.63 172.57l-3.5 -5.67h7zM342.21 172.56l-3.5 -5.67h7zM344.78 172.56l-3.5 -5.67h7zM347.35 172.55l-3.5 -5.67h7zM349.92 172.55l-3.5 -5.67h7zM352.5 172.54l-3.5 -5.67h7z" fill="none" stroke="#00ffff" stroke-width="1.9" stroke-linejoin="miter"/>
<path d="M94.35 232.04h1.8v1.8h-1.8zM96.92 226.13h1.8v1.8h-1.8zM99.49 219.03h1.8v1.8h-1.8zM102.07 212.49h1.8v1.8h-1.8zM104.64 206.51h1.8v1.8h-1.8zM107.21 201.11h1.8v1.8h-1.8zM109.78 196.35h1.8v1.8h-1.8zM112.36 192.23h1.8v1.8h-1.8zM114.93 188.74h1.8v1.8h-1.8zM117.5 185.82h1.8v1.8h-1.8zM120.07 183.39h1.8v1.8h-1.8zM122.65 181.38h1.8v1.8h-1.8zM125.22 179.7h1.8v1.8h-1.8zM127.79 178.28h1.8v1.8h-1.8zM130.36 177.08h1.8v1.8h-1.8zM132.94 176.06h1.8v1.8h-1.8zM135.51 175.2h1.8v1.8h-1.8zM138.08 174.47h1.8v1.8h-1.8zM140.65 173.84h1.8v1.8h-1.8zM143.23 173.31h1.8v1.8h-1.8zM145.8 172.86h1.8v1.8h-1.8zM148.37 172.46h1.8v1.8h-1.8zM150.94 172.12h1.8v1.8h-1.8zM153.52 171.82h1.8v1.8h-1.8zM156.09 171.55h1.8v1.8h-1.8zM158.66 171.31h1.8v1.8h-1.8zM161.23 171.1h1.8v1.8h-1.8zM163.81 170.91h1.8v1.8h-1.8zM166.38 170.73h1.8v1.8h-1.8zM168.95 170.57h1.8v1.8h-1.8zM171.52 170.42h1.8v1.8h-1.8zM174.1 170.28h1.8v1.8h-1.8zM176.67 170.15h1.8v1.8h-1.8zM179.24 170.03h1.8v1.8h-1.8zM181.81 169.92h1.8v1.8h-1.8zM184.39 169.81h1.8v1.8h-1.8zM186.96 169.71h1.8v1.8h-1.8zM189.53 169.62h1.8v1.8h-1.8zM192.1 169.53h1.8v1.8h-1.8zM194.68 169.44h1.8v1.8h-1.8zM197.25 169.36h1.8v1.8h-1.8zM199.82 169.28h1.8v1.8h-1.8zM202.39 169.21h1.8v1.8h-1.8zM204.97 169.14h1.8v1.8h-1.8zM207.54 169.07h1.8v1.8h-1.8zM210.11 169h1.8v1.8h-1.8zM212.68 168.94h1.8v1.8h-1.8zM215.26 168.88h1.8v1.8h-1.8zM217.83 168.83h1.8v1.8h-1.8zM220.4 168.78h1.8v1.8h-1.8zM222.97 168.72h1.8v1.8h-1.8zM225.55 168.68h1.8v1.8h-1.8zM228.12 168.63h1.8v1.8h-1.8zM230.69 168.58h1.8v1.8h-1.8zM233.26 168.54h1.8v1.8h-1.8zM235.83 168.5h1.8v1.8h-1.8zM238.41 168.46h1.8v1.8h-1.8zM240.98 168.42h1.8v1.8h-1.8zM243.55 168.39h1.8v1.8h-1.8zM246.12 168.35h1.8v1.8h-1.8zM248.7 168.32h1.8v1.8h-1.8zM251.27 168.29h1.8v1.8h-1.8zM253.84 168.26h1.8v1.8h-1.8zM256.41 168.23h1.8v1.8h-1.8zM258.99 168.2h1.8v1.8h-1.8zM261.56 168.18h1.8v1.8h-1.8zM264.13 168.15h1.8v1.8h-1.8zM266.7 168.13h1.8v1.8h-1.8zM269.28 168.11h1.8v1.8h-1.8zM271.85 168.08h1.8v1.8h-1.8zM274.42 168.06h1.8v1.8h-1.8zM276.99 168.04h1.8v1.8h-1.8zM279.57 168.02h1.8v1.8h-1.8zM282.14 168h1.8v1.8h-1.8zM284.71 167.99h1.8v1.8h-1.8zM287.28 167.97h1.8v1.8h-1.8zM289.86 167.95h1.8v1.8h-1.8zM292.43 167.94h1.8v1.8h-1.8zM295 167.92h1.8v1.8h-1.8zM297.57 167.91h1.8v1.8h-1.8zM300.15 167.9h1.8v1.8h-1.8zM302.72 167.88h1.8v1.8h-1.8zM305.29 167.87h1.8v1.8h-1.8zM307.86 167.86h1.8v1.8h-1.8zM310.44 167.85h1.8v1.8h-1.8zM313.01 167.84h1.8v1.8h-1.8zM315.58 167.83h1.8v1.8h-1.8zM318.15 167.82h1.8v1.8h-1.8zM320.73 167.81h1.8v1.8h-1.8zM323.3 167.8h1.8v1.8h-1.8zM325.87 167.79h1.8v1.8h-1.8zM328.44 167.78h1.8v1.8h-1.8zM331.02 167.77h1.8v1.8h-1.8zM333.59 167.76h1.8v1.8h-1.8zM336.16 167.76h1.8v1.8h-1.8zM338.73 167.75h1.8v1.8h-1.8zM341.31 167.74h1.8v1.8h-1.8zM343.88 167.74h1.8v1.8h-1.8zM346.45 167.73h1.8v1.8h-1.8zM349.02 167.73h1.8v1.8h-1.8zM351.6 167.72h1.8v1.8h-1.8z" fill="#00ffff"/>
<path d="M95.25 9.5V235.0M822.8 9.5V235.0" fill="none" stroke="#000" stroke-width="1.45" stroke-linecap="square"/>
<text x="706.4" y="145.5" text-anchor="end" font-size="26.5"  >100</text>
<path d="M753 133.1h7.0v7.0h-7.0z" fill="none" stroke="#228b22" stroke-width="1.9" stroke-linejoin="miter"/>
<path d="M755.6 135.7h1.8v1.8h-1.8z" fill="#228b22"/>
<text x="706.4" y="171.5" text-anchor="end" font-size="26.5"  >200</text>
<path d="M753 162.6a3.5 3.5 0 1 0 7.0 0a3.5 3.5 0 1 0 -7.0 0z" fill="none" stroke="#0000ff" stroke-width="1.9" stroke-linejoin="miter"/>
<path d="M755.6 161.7h1.8v1.8h-1.8z" fill="#0000ff"/>
<text x="706.4" y="197.5" text-anchor="end" font-size="26.5"  >400</text>
<path d="M756.5 184.68l-3.5 5.67h7z" fill="none" stroke="#ff0000" stroke-width="1.9" stroke-linejoin="miter"/>
<path d="M755.6 187.7h1.8v1.8h-1.8z" fill="#ff0000"/>
<text x="706.4" y="223.5" text-anchor="end" font-size="26.5"  >800</text>
<path d="M756.5 218.52l-3.5 -5.67h7z" fill="none" stroke="#00ffff" stroke-width="1.9" stroke-linejoin="miter"/>
<path d="M755.6 213.7h1.8v1.8h-1.8z" fill="#00ffff"/>
<g transform="translate(513.1,243.4)"><path d="M13.3 2.2C12.9 0.5 10.9 0.2 9.9 1.5C9.3 2.3 8.95 3.4 8.7 4.7" fill="none" stroke="#000" stroke-width="1.0" stroke-linecap="round"/><path d="M9.3 2.8C8.7 4.3 8.4 6.3 8.0 8.6L6.7 17.1C6.35 19.4 5.85 21.5 5.1 22.9" fill="none" stroke="#000" stroke-width="1.85" stroke-linecap="round"/><path d="M5.9 20.9C5.4 22.5 4.8 23.7 3.9 24.3C2.7 25.1 1.3 24.6 0.9 23.3" fill="none" stroke="#000" stroke-width="1.0" stroke-linecap="round"/><circle cx="12.85" cy="2.75" r="1.5"/><circle cx="1.5" cy="22.9" r="1.5"/><path d="M3.9 7.9H12.3" stroke="#000" stroke-width="0.95" fill="none"/></g>
<text transform="translate(20.8,124.3) rotate(-90)" text-anchor="middle" font-size="32" font-style="italic">C</text>
<rect x="95.25" y="277.9" width="727.55" height="220.75" fill="none" stroke="#000" stroke-width="1.45"/>
<path d="M95.25 498.65v-7.5M95.25 277.9v7.5M441.75 498.65v-7.5M441.75 277.9v7.5M788.25 498.65v-7.5M788.25 277.9v7.5" stroke="#000" stroke-width="0.85" fill="none"/>
<path d="M95.25 498.8h7.5M822.8 498.8h-7.5M95.25 388.25h7.5M822.8 388.25h-7.5M95.25 277.7h7.5M822.8 277.7h-7.5" stroke="#000" stroke-width="0.85" fill="none"/>
<text x="99.05" y="521" text-anchor="middle" font-size="26.5"  >0</text>
<text x="445.55" y="521" text-anchor="middle" font-size="26.5"  >10</text>
<text x="792.05" y="521" text-anchor="middle" font-size="26.5"  >20</text>
<text x="87.2" y="507.7" text-anchor="end" font-size="26.5"  >0</text>
<text x="87.2" y="397.15" text-anchor="end" font-size="26.5"  >0.5</text>
<text x="87.2" y="286.6" text-anchor="end" font-size="26.5"  >1</text>
<text x="146.5" y="297.2" text-anchor="middle" font-size="26.5"  >(b)</text>
<path d="M91.75 495.19h7.0v7.0h-7.0zM98.68 483h7.0v7.0h-7.0zM105.61 461.09h7.0v7.0h-7.0zM112.54 442.03h7.0v7.0h-7.0zM119.47 425.1h7.0v7.0h-7.0zM126.4 410.05h7.0v7.0h-7.0zM133.33 396.84h7.0v7.0h-7.0zM140.26 385.42h7.0v7.0h-7.0zM147.19 375.7h7.0v7.0h-7.0zM154.12 367.55h7.0v7.0h-7.0zM161.05 360.75h7.0v7.0h-7.0zM167.98 355.08h7.0v7.0h-7.0zM174.91 350.36h7.0v7.0h-7.0zM181.84 346.41h7.0v7.0h-7.0zM188.77 343.08h7.0v7.0h-7.0zM195.7 340.28h7.0v7.0h-7.0zM202.63 337.92h7.0v7.0h-7.0zM209.56 335.92h7.0v7.0h-7.0zM216.49 334.22h7.0v7.0h-7.0zM223.42 332.76h7.0v7.0h-7.0zM230.35 331.5h7.0v7.0h-7.0zM237.28 330.4h7.0v7.0h-7.0zM244.21 329.42h7.0v7.0h-7.0zM251.14 328.56h7.0v7.0h-7.0zM258.07 327.78h7.0v7.0h-7.0zM265 327.07h7.0v7.0h-7.0zM271.93 326.42h7.0v7.0h-7.0zM278.86 325.83h7.0v7.0h-7.0zM285.79 325.28h7.0v7.0h-7.0zM292.72 324.78h7.0v7.0h-7.0zM299.65 324.32h7.0v7.0h-7.0zM306.58 323.89h7.0v7.0h-7.0zM313.51 323.49h7.0v7.0h-7.0zM320.44 323.12h7.0v7.0h-7.0zM327.37 322.77h7.0v7.0h-7.0zM334.3 322.45h7.0v7.0h-7.0zM341.23 322.15h7.0v7.0h-7.0zM348.16 321.88h7.0v7.0h-7.0zM355.09 321.61h7.0v7.0h-7.0zM362.02 321.37h7.0v7.0h-7.0zM368.95 321.14h7.0v7.0h-7.0zM375.88 320.92h7.0v7.0h-7.0zM382.81 320.71h7.0v7.0h-7.0zM389.74 320.51h7.0v7.0h-7.0zM396.67 320.32h7.0v7.0h-7.0zM403.6 320.14h7.0v7.0h-7.0zM410.53 319.97h7.0v7.0h-7.0zM417.46 319.81h7.0v7.0h-7.0zM424.39 319.65h7.0v7.0h-7.0zM431.32 319.51h7.0v7.0h-7.0zM438.25 319.36h7.0v7.0h-7.0zM445.18 319.23h7.0v7.0h-7.0zM452.11 319.1h7.0v7.0h-7.0zM459.04 318.97h7.0v7.0h-7.0zM465.97 318.86h7.0v7.0h-7.0zM472.9 318.74h7.0v7.0h-7.0zM479.83 318.63h7.0v7.0h-7.0zM486.76 318.53h7.0v7.0h-7.0zM493.69 318.43h7.0v7.0h-7.0zM500.62 318.34h7.0v7.0h-7.0zM507.55 318.25h7.0v7.0h-7.0zM514.48 318.16h7.0v7.0h-7.0zM521.41 318.08h7.0v7.0h-7.0zM528.34 318h7.0v7.0h-7.0zM535.27 317.92h7.0v7.0h-7.0zM542.2 317.85h7.0v7.0h-7.0zM549.13 317.78h7.0v7.0h-7.0zM556.06 317.71h7.0v7.0h-7.0zM562.99 317.65h7.0v7.0h-7.0zM569.92 317.59h7.0v7.0h-7.0zM576.85 317.53h7.0v7.0h-7.0zM583.78 317.47h7.0v7.0h-7.0zM590.71 317.42h7.0v7.0h-7.0zM597.64 317.37h7.0v7.0h-7.0zM604.57 317.32h7.0v7.0h-7.0zM611.5 317.27h7.0v7.0h-7.0zM618.43 317.23h7.0v7.0h-7.0zM625.36 317.18h7.0v7.0h-7.0zM632.29 317.14h7.0v7.0h-7.0zM639.22 317.1h7.0v7.0h-7.0zM646.15 317.06h7.0v7.0h-7.0zM653.08 317.03h7.0v7.0h-7.0zM660.01 316.99h7.0v7.0h-7.0zM666.94 316.96h7.0v7.0h-7.0zM673.87 316.93h7.0v7.0h-7.0zM680.8 316.9h7.0v7.0h-7.0zM687.73 316.87h7.0v7.0h-7.0zM694.66 316.84h7.0v7.0h-7.0zM701.59 316.82h7.0v7.0h-7.0zM708.52 316.79h7.0v7.0h-7.0zM715.45 316.77h7.0v7.0h-7.0zM722.38 316.74h7.0v7.0h-7.0zM729.31 316.72h7.0v7.0h-7.0zM736.24 316.7h7.0v7.0h-7.0zM743.17 316.68h7.0v7.0h-7.0zM750.1 316.66h7.0v7.0h-7.0zM757.03 316.64h7.0v7.0h-7.0zM763.96 316.62h7.0v7.0h-7.0zM770.89 316.61h7.0v7.0h-7.0zM777.82 316.59h7.0v7.0h-7.0zM784.75 316.58h7.0v7.0h-7.0z" fill="none" stroke="#228b22" stroke-width="1.9" stroke-linejoin="miter"/>
<path d="M94.35 497.79h1.8v1.8h-1.8zM101.28 485.6h1.8v1.8h-1.8zM108.21 463.69h1.8v1.8h-1.8zM115.14 444.63h1.8v1.8h-1.8zM122.07 427.7h1.8v1.8h-1.8zM129 412.65h1.8v1.8h-1.8zM135.93 399.44h1.8v1.8h-1.8zM142.86 388.02h1.8v1.8h-1.8zM149.79 378.3h1.8v1.8h-1.8zM156.72 370.15h1.8v1.8h-1.8zM163.65 363.35h1.8v1.8h-1.8zM170.58 357.68h1.8v1.8h-1.8zM177.51 352.96h1.8v1.8h-1.8zM184.44 349.01h1.8v1.8h-1.8zM191.37 345.68h1.8v1.8h-1.8zM198.3 342.88h1.8v1.8h-1.8zM205.23 340.52h1.8v1.8h-1.8zM212.16 338.52h1.8v1.8h-1.8zM219.09 336.82h1.8v1.8h-1.8zM226.02 335.36h1.8v1.8h-1.8zM232.95 334.1h1.8v1.8h-1.8zM239.88 333h1.8v1.8h-1.8zM246.81 332.02h1.8v1.8h-1.8zM253.74 331.16h1.8v1.8h-1.8zM260.67 330.38h1.8v1.8h-1.8zM267.6 329.67h1.8v1.8h-1.8zM274.53 329.02h1.8v1.8h-1.8zM281.46 328.43h1.8v1.8h-1.8zM288.39 327.88h1.8v1.8h-1.8zM295.32 327.38h1.8v1.8h-1.8zM302.25 326.92h1.8v1.8h-1.8zM309.18 326.49h1.8v1.8h-1.8zM316.11 326.09h1.8v1.8h-1.8zM323.04 325.72h1.8v1.8h-1.8zM329.97 325.37h1.8v1.8h-1.8zM336.9 325.05h1.8v1.8h-1.8zM343.83 324.75h1.8v1.8h-1.8zM350.76 324.48h1.8v1.8h-1.8zM357.69 324.21h1.8v1.8h-1.8zM364.62 323.97h1.8v1.8h-1.8zM371.55 323.74h1.8v1.8h-1.8zM378.48 323.52h1.8v1.8h-1.8zM385.41 323.31h1.8v1.8h-1.8zM392.34 323.11h1.8v1.8h-1.8zM399.27 322.92h1.8v1.8h-1.8zM406.2 322.74h1.8v1.8h-1.8zM413.13 322.57h1.8v1.8h-1.8zM420.06 322.41h1.8v1.8h-1.8zM426.99 322.25h1.8v1.8h-1.8zM433.92 322.11h1.8v1.8h-1.8zM440.85 321.96h1.8v1.8h-1.8zM447.78 321.83h1.8v1.8h-1.8zM454.71 321.7h1.8v1.8h-1.8zM461.64 321.57h1.8v1.8h-1.8zM468.57 321.46h1.8v1.8h-1.8zM475.5 321.34h1.8v1.8h-1.8zM482.43 321.23h1.8v1.8h-1.8zM489.36 321.13h1.8v1.8h-1.8zM496.29 321.03h1.8v1.8h-1.8zM503.22 320.94h1.8v1.8h-1.8zM510.15 320.85h1.8v1.8h-1.8zM517.08 320.76h1.8v1.8h-1.8zM524.01 320.68h1.8v1.8h-1.8zM530.94 320.6h1.8v1.8h-1.8zM537.87 320.52h1.8v1.8h-1.8zM544.8 320.45h1.8v1.8h-1.8zM551.73 320.38h1.8v1.8h-1.8zM558.66 320.31h1.8v1.8h-1.8zM565.59 320.25h1.8v1.8h-1.8zM572.52 320.19h1.8v1.8h-1.8zM579.45 320.13h1.8v1.8h-1.8zM586.38 320.07h1.8v1.8h-1.8zM593.31 320.02h1.8v1.8h-1.8zM600.24 319.97h1.8v1.8h-1.8zM607.17 319.92h1.8v1.8h-1.8zM614.1 319.87h1.8v1.8h-1.8zM621.03 319.83h1.8v1.8h-1.8zM627.96 319.78h1.8v1.8h-1.8zM634.89 319.74h1.8v1.8h-1.8zM641.82 319.7h1.8v1.8h-1.8zM648.75 319.66h1.8v1.8h-1.8zM655.68 319.63h1.8v1.8h-1.8zM662.61 319.59h1.8v1.8h-1.8zM669.54 319.56h1.8v1.8h-1.8zM676.47 319.53h1.8v1.8h-1.8zM683.4 319.5h1.8v1.8h-1.8zM690.33 319.47h1.8v1.8h-1.8zM697.26 319.44h1.8v1.8h-1.8zM704.19 319.42h1.8v1.8h-1.8zM711.12 319.39h1.8v1.8h-1.8zM718.05 319.37h1.8v1.8h-1.8zM724.98 319.34h1.8v1.8h-1.8zM731.91 319.32h1.8v1.8h-1.8zM738.84 319.3h1.8v1.8h-1.8zM745.77 319.28h1.8v1.8h-1.8zM752.7 319.26h1.8v1.8h-1.8zM759.63 319.24h1.8v1.8h-1.8zM766.56 319.22h1.8v1.8h-1.8zM773.49 319.21h1.8v1.8h-1.8zM780.42 319.19h1.8v1.8h-1.8zM787.35 319.18h1.8v1.8h-1.8z" fill="#228b22"/>
<path d="M91.75 498.47a3.5 3.5 0 1 0 7.0 0a3.5 3.5 0 1 0 -7.0 0zM98.68 484.03a3.5 3.5 0 1 0 7.0 0a3.5 3.5 0 1 0 -7.0 0zM105.61 463.22a3.5 3.5 0 1 0 7.0 0a3.5 3.5 0 1 0 -7.0 0zM112.54 444.58a3.5 3.5 0 1 0 7.0 0a3.5 3.5 0 1 0 -7.0 0zM119.47 427.73a3.5 3.5 0 1 0 7.0 0a3.5 3.5 0 1 0 -7.0 0zM126.4 412.63a3.5 3.5 0 1 0 7.0 0a3.5 3.5 0 1 0 -7.0 0zM133.33 399.33a3.5 3.5 0 1 0 7.0 0a3.5 3.5 0 1 0 -7.0 0zM140.26 387.84a3.5 3.5 0 1 0 7.0 0a3.5 3.5 0 1 0 -7.0 0zM147.19 378.1a3.5 3.5 0 1 0 7.0 0a3.5 3.5 0 1 0 -7.0 0zM154.12 369.95a3.5 3.5 0 1 0 7.0 0a3.5 3.5 0 1 0 -7.0 0zM161.05 363.18a3.5 3.5 0 1 0 7.0 0a3.5 3.5 0 1 0 -7.0 0zM167.98 357.55a3.5 3.5 0 1 0 7.0 0a3.5 3.5 0 1 0 -7.0 0zM174.91 352.84a3.5 3.5 0 1 0 7.0 0a3.5 3.5 0 1 0 -7.0 0zM181.84 348.87a3.5 3.5 0 1 0 7.0 0a3.5 3.5 0 1 0 -7.0 0zM188.77 345.51a3.5 3.5 0 1 0 7.0 0a3.5 3.5 0 1 0 -7.0 0zM195.7 342.65a3.5 3.5 0 1 0 7.0 0a3.5 3.5 0 1 0 -7.0 0zM202.63 340.23a3.5 3.5 0 1 0 7.0 0a3.5 3.5 0 1 0 -7.0 0zM209.56 338.17a3.5 3.5 0 1 0 7.0 0a3.5 3.5 0 1 0 -7.0 0zM216.49 336.42a3.5 3.5 0 1 0 7.0 0a3.5 3.5 0 1 0 -7.0 0zM223.42 334.93a3.5 3.5 0 1 0 7.0 0a3.5 3.5 0 1 0 -7.0 0zM230.35 333.66a3.5 3.5 0 1 0 7.0 0a3.5 3.5 0 1 0 -7.0 0zM237.28 332.57a3.5 3.5 0 1 0 7.0 0a3.5 3.5 0 1 0 -7.0 0zM244.21 331.64a3.5 3.5 0 1 0 7.0 0a3.5 3.5 0 1 0 -7.0 0zM251.14 330.82a3.5 3.5 0 1 0 7.0 0a3.5 3.5 0 1 0 -7.0 0zM258.07 330.11a3.5 3.5 0 1 0 7.0 0a3.5 3.5 0 1 0 -7.0 0zM265 329.48a3.5 3.5 0 1 0 7.0 0a3.5 3.5 0 1 0 -7.0 0zM271.93 328.93a3.5 3.5 0 1 0 7.0 0a3.5 3.5 0 1 0 -7.0 0zM278.86 328.43a3.5 3.5 0 1 0 7.0 0a3.5 3.5 0 1 0 -7.0 0zM285.79 327.99a3.5 3.5 0 1 0 7.0 0a3.5 3.5 0 1 0 -7.0 0zM292.72 327.59a3.5 3.5 0 1 0 7.0 0a3.5 3.5 0 1 0 -7.0 0zM299.65 327.23a3.5 3.5 0 1 0 7.0 0a3.5 3.5 0 1 0 -7.0 0zM306.58 326.89a3.5 3.5 0 1 0 7.0 0a3.5 3.5 0 1 0 -7.0 0zM313.51 326.59a3.5 3.5 0 1 0 7.0 0a3.5 3.5 0 1 0 -7.0 0zM320.44 326.3a3.5 3.5 0 1 0 7.0 0a3.5 3.5 0 1 0 -7.0 0zM327.37 326.03a3.5 3.5 0 1 0 7.0 0a3.5 3.5 0 1 0 -7.0 0zM334.3 325.78a3.5 3.5 0 1 0 7.0 0a3.5 3.5 0 1 0 -7.0 0zM341.23 325.55a3.5 3.5 0 1 0 7.0 0a3.5 3.5 0 1 0 -7.0 0zM348.16 325.32a3.5 3.5 0 1 0 7.0 0a3.5 3.5 0 1 0 -7.0 0zM355.09 325.1a3.5 3.5 0 1 0 7.0 0a3.5 3.5 0 1 0 -7.0 0zM362.02 324.9a3.5 3.5 0 1 0 7.0 0a3.5 3.5 0 1 0 -7.0 0zM368.95 324.7a3.5 3.5 0 1 0 7.0 0a3.5 3.5 0 1 0 -7.0 0zM375.88 324.51a3.5 3.5 0 1 0 7.0 0a3.5 3.5 0 1 0 -7.0 0zM382.81 324.33a3.5 3.5 0 1 0 7.0 0a3.5 3.5 0 1 0 -7.0 0zM389.74 324.15a3.5 3.5 0 1 0 7.0 0a3.5 3.5 0 1 0 -7.0 0zM396.67 323.98a3.5 3.5 0 1 0 7.0 0a3.5 3.5 0 1 0 -7.0 0zM403.6 323.81a3.5 3.5 0 1 0 7.0 0a3.5 3.5 0 1 0 -7.0 0zM410.53 323.66a3.5 3.5 0 1 0 7.0 0a3.5 3.5 0 1 0 -7.0 0zM417.46 323.5a3.5 3.5 0 1 0 7.0 0a3.5 3.5 0 1 0 -7.0 0zM424.39 323.36a3.5 3.5 0 1 0 7.0 0a3.5 3.5 0 1 0 -7.0 0zM431.32 323.21a3.5 3.5 0 1 0 7.0 0a3.5 3.5 0 1 0 -7.0 0zM438.25 323.08a3.5 3.5 0 1 0 7.0 0a3.5 3.5 0 1 0 -7.0 0zM445.18 322.95a3.5 3.5 0 1 0 7.0 0a3.5 3.5 0 1 0 -7.0 0zM452.11 322.82a3.5 3.5 0 1 0 7.0 0a3.5 3.5 0 1 0 -7.0 0zM459.04 322.7a3.5 3.5 0 1 0 7.0 0a3.5 3.5 0 1 0 -7.0 0zM465.97 322.58a3.5 3.5 0 1 0 7.0 0a3.5 3.5 0 1 0 -7.0 0zM472.9 322.47a3.5 3.5 0 1 0 7.0 0a3.5 3.5 0 1 0 -7.0 0zM479.83 322.36a3.5 3.5 0 1 0 7.0 0a3.5 3.5 0 1 0 -7.0 0zM486.76 322.26a3.5 3.5 0 1 0 7.0 0a3.5 3.5 0 1 0 -7.0 0zM493.69 322.16a3.5 3.5 0 1 0 7.0 0a3.5 3.5 0 1 0 -7.0 0zM500.62 322.07a3.5 3.5 0 1 0 7.0 0a3.5 3.5 0 1 0 -7.0 0zM507.55 321.98a3.5 3.5 0 1 0 7.0 0a3.5 3.5 0 1 0 -7.0 0zM514.48 321.89a3.5 3.5 0 1 0 7.0 0a3.5 3.5 0 1 0 -7.0 0zM521.41 321.81a3.5 3.5 0 1 0 7.0 0a3.5 3.5 0 1 0 -7.0 0zM528.34 321.73a3.5 3.5 0 1 0 7.0 0a3.5 3.5 0 1 0 -7.0 0zM535.27 321.65a3.5 3.5 0 1 0 7.0 0a3.5 3.5 0 1 0 -7.0 0zM542.2 321.58a3.5 3.5 0 1 0 7.0 0a3.5 3.5 0 1 0 -7.0 0zM549.13 321.51a3.5 3.5 0 1 0 7.0 0a3.5 3.5 0 1 0 -7.0 0zM556.06 321.44a3.5 3.5 0 1 0 7.0 0a3.5 3.5 0 1 0 -7.0 0zM562.99 321.38a3.5 3.5 0 1 0 7.0 0a3.5 3.5 0 1 0 -7.0 0zM569.92 321.32a3.5 3.5 0 1 0 7.0 0a3.5 3.5 0 1 0 -7.0 0zM576.85 321.26a3.5 3.5 0 1 0 7.0 0a3.5 3.5 0 1 0 -7.0 0zM583.78 321.2a3.5 3.5 0 1 0 7.0 0a3.5 3.5 0 1 0 -7.0 0zM590.71 321.15a3.5 3.5 0 1 0 7.0 0a3.5 3.5 0 1 0 -7.0 0zM597.64 321.1a3.5 3.5 0 1 0 7.0 0a3.5 3.5 0 1 0 -7.0 0zM604.57 321.05a3.5 3.5 0 1 0 7.0 0a3.5 3.5 0 1 0 -7.0 0zM611.5 321a3.5 3.5 0 1 0 7.0 0a3.5 3.5 0 1 0 -7.0 0zM618.43 320.96a3.5 3.5 0 1 0 7.0 0a3.5 3.5 0 1 0 -7.0 0zM625.36 320.91a3.5 3.5 0 1 0 7.0 0a3.5 3.5 0 1 0 -7.0 0zM632.29 320.87a3.5 3.5 0 1 0 7.0 0a3.5 3.5 0 1 0 -7.0 0zM639.22 320.83a3.5 3.5 0 1 0 7.0 0a3.5 3.5 0 1 0 -7.0 0zM646.15 320.8a3.5 3.5 0 1 0 7.0 0a3.5 3.5 0 1 0 -7.0 0zM653.08 320.76a3.5 3.5 0 1 0 7.0 0a3.5 3.5 0 1 0 -7.0 0zM660.01 320.73a3.5 3.5 0 1 0 7.0 0a3.5 3.5 0 1 0 -7.0 0zM666.94 320.69a3.5 3.5 0 1 0 7.0 0a3.5 3.5 0 1 0 -7.0 0zM673.87 320.66a3.5 3.5 0 1 0 7.0 0a3.5 3.5 0 1 0 -7.0 0zM680.8 320.63a3.5 3.5 0 1 0 7.0 0a3.5 3.5 0 1 0 -7.0 0zM687.73 320.6a3.5 3.5 0 1 0 7.0 0a3.5 3.5 0 1 0 -7.0 0zM694.66 320.58a3.5 3.5 0 1 0 7.0 0a3.5 3.5 0 1 0 -7.0 0zM701.59 320.55a3.5 3.5 0 1 0 7.0 0a3.5 3.5 0 1 0 -7.0 0zM708.52 320.52a3.5 3.5 0 1 0 7.0 0a3.5 3.5 0 1 0 -7.0 0zM715.45 320.5a3.5 3.5 0 1 0 7.0 0a3.5 3.5 0 1 0 -7.0 0zM722.38 320.48a3.5 3.5 0 1 0 7.0 0a3.5 3.5 0 1 0 -7.0 0zM729.31 320.45a3.5 3.5 0 1 0 7.0 0a3.5 3.5 0 1 0 -7.0 0zM736.24 320.43a3.5 3.5 0 1 0 7.0 0a3.5 3.5 0 1 0 -7.0 0zM743.17 320.41a3.5 3.5 0 1 0 7.0 0a3.5 3.5 0 1 0 -7.0 0zM750.1 320.39a3.5 3.5 0 1 0 7.0 0a3.5 3.5 0 1 0 -7.0 0zM757.03 320.37a3.5 3.5 0 1 0 7.0 0a3.5 3.5 0 1 0 -7.0 0zM763.96 320.36a3.5 3.5 0 1 0 7.0 0a3.5 3.5 0 1 0 -7.0 0zM770.89 320.34a3.5 3.5 0 1 0 7.0 0a3.5 3.5 0 1 0 -7.0 0zM777.82 320.32a3.5 3.5 0 1 0 7.0 0a3.5 3.5 0 1 0 -7.0 0zM784.75 320.31a3.5 3.5 0 1 0 7.0 0a3.5 3.5 0 1 0 -7.0 0z" fill="none" stroke="#0000ff" stroke-width="1.9" stroke-linejoin="miter"/>
<path d="M94.35 497.57h1.8v1.8h-1.8zM101.28 483.13h1.8v1.8h-1.8zM108.21 462.32h1.8v1.8h-1.8zM115.14 443.68h1.8v1.8h-1.8zM122.07 426.83h1.8v1.8h-1.8zM129 411.73h1.8v1.8h-1.8zM135.93 398.43h1.8v1.8h-1.8zM142.86 386.94h1.8v1.8h-1.8zM149.79 377.2h1.8v1.8h-1.8zM156.72 369.05h1.8v1.8h-1.8zM163.65 362.28h1.8v1.8h-1.8zM170.58 356.65h1.8v1.8h-1.8zM177.51 351.94h1.8v1.8h-1.8zM184.44 347.97h1.8v1.8h-1.8zM191.37 344.61h1.8v1.8h-1.8zM198.3 341.75h1.8v1.8h-1.8zM205.23 339.33h1.8v1.8h-1.8zM212.16 337.27h1.8v1.8h-1.8zM219.09 335.52h1.8v1.8h-1.8zM226.02 334.03h1.8v1.8h-1.8zM232.95 332.76h1.8v1.8h-1.8zM239.88 331.67h1.8v1.8h-1.8zM246.81 330.74h1.8v1.8h-1.8zM253.74 329.92h1.8v1.8h-1.8zM260.67 329.21h1.8v1.8h-1.8zM267.6 328.58h1.8v1.8h-1.8zM274.53 328.03h1.8v1.8h-1.8zM281.46 327.53h1.8v1.8h-1.8zM288.39 327.09h1.8v1.8h-1.8zM295.32 326.69h1.8v1.8h-1.8zM302.25 326.33h1.8v1.8h-1.8zM309.18 325.99h1.8v1.8h-1.8zM316.11 325.69h1.8v1.8h-1.8zM323.04 325.4h1.8v1.8h-1.8zM329.97 325.13h1.8v1.8h-1.8zM336.9 324.88h1.8v1.8h-1.8zM343.83 324.65h1.8v1.8h-1.8zM350.76 324.42h1.8v1.8h-1.8zM357.69 324.2h1.8v1.8h-1.8zM364.62 324h1.8v1.8h-1.8zM371.55 323.8h1.8v1.8h-1.8zM378.48 323.61h1.8v1.8h-1.8zM385.41 323.43h1.8v1.8h-1.8zM392.34 323.25h1.8v1.8h-1.8zM399.27 323.08h1.8v1.8h-1.8zM406.2 322.91h1.8v1.8h-1.8zM413.13 322.76h1.8v1.8h-1.8zM420.06 322.6h1.8v1.8h-1.8zM426.99 322.46h1.8v1.8h-1.8zM433.92 322.31h1.8v1.8h-1.8zM440.85 322.18h1.8v1.8h-1.8zM447.78 322.05h1.8v1.8h-1.8zM454.71 321.92h1.8v1.8h-1.8zM461.64 321.8h1.8v1.8h-1.8zM468.57 321.68h1.8v1.8h-1.8zM475.5 321.57h1.8v1.8h-1.8zM482.43 321.46h1.8v1.8h-1.8zM489.36 321.36h1.8v1.8h-1.8zM496.29 321.26h1.8v1.8h-1.8zM503.22 321.17h1.8v1.8h-1.8zM510.15 321.08h1.8v1.8h-1.8zM517.08 320.99h1.8v1.8h-1.8zM524.01 320.91h1.8v1.8h-1.8zM530.94 320.83h1.8v1.8h-1.8zM537.87 320.75h1.8v1.8h-1.8zM544.8 320.68h1.8v1.8h-1.8zM551.73 320.61h1.8v1.8h-1.8zM558.66 320.54h1.8v1.8h-1.8zM565.59 320.48h1.8v1.8h-1.8zM572.52 320.42h1.8v1.8h-1.8zM579.45 320.36h1.8v1.8h-1.8zM586.38 320.3h1.8v1.8h-1.8zM593.31 320.25h1.8v1.8h-1.8zM600.24 320.2h1.8v1.8h-1.8zM607.17 320.15h1.8v1.8h-1.8zM614.1 320.1h1.8v1.8h-1.8zM621.03 320.06h1.8v1.8h-1.8zM627.96 320.01h1.8v1.8h-1.8zM634.89 319.97h1.8v1.8h-1.8zM641.82 319.93h1.8v1.8h-1.8zM648.75 319.9h1.8v1.8h-1.8zM655.68 319.86h1.8v1.8h-1.8zM662.61 319.83h1.8v1.8h-1.8zM669.54 319.79h1.8v1.8h-1.8zM676.47 319.76h1.8v1.8h-1.8zM683.4 319.73h1.8v1.8h-1.8zM690.33 319.7h1.8v1.8h-1.8zM697.26 319.68h1.8v1.8h-1.8zM704.19 319.65h1.8v1.8h-1.8zM711.12 319.62h1.8v1.8h-1.8zM718.05 319.6h1.8v1.8h-1.8zM724.98 319.58h1.8v1.8h-1.8zM731.91 319.55h1.8v1.8h-1.8zM738.84 319.53h1.8v1.8h-1.8zM745.77 319.51h1.8v1.8h-1.8zM752.7 319.49h1.8v1.8h-1.8zM759.63 319.47h1.8v1.8h-1.8zM766.56 319.46h1.8v1.8h-1.8zM773.49 319.44h1.8v1.8h-1.8zM780.42 319.42h1.8v1.8h-1.8zM787.35 319.41h1.8v1.8h-1.8z" fill="#0000ff"/>
<path d="M95.25 494.7l-3.5 5.67h7zM102.18 478.64l-3.5 5.67h7zM109.11 458.49l-3.5 5.67h7zM116.04 440.08l-3.5 5.67h7zM122.97 423.28l-3.5 5.67h7zM129.9 408.15l-3.5 5.67h7zM136.83 394.8l-3.5 5.67h7zM143.76 383.26l-3.5 5.67h7zM150.69 373.47l-3.5 5.67h7zM157.62 365.3l-3.5 5.67h7zM164.55 358.51l-3.5 5.67h7zM171.48 352.88l-3.5 5.67h7zM178.41 348.16l-3.5 5.67h7zM185.34 344.2l-3.5 5.67h7zM192.27 340.84l-3.5 5.67h7zM199.2 338l-3.5 5.67h7zM206.13 335.58l-3.5 5.67h7zM213.06 333.53l-3.5 5.67h7zM219.99 331.78l-3.5 5.67h7zM226.92 330.29l-3.5 5.67h7zM233.85 329.01l-3.5 5.67h7zM240.78 327.91l-3.5 5.67h7zM247.71 326.95l-3.5 5.67h7zM254.64 326.11l-3.5 5.67h7zM261.57 325.36l-3.5 5.67h7zM268.5 324.7l-3.5 5.67h7zM275.43 324.1l-3.5 5.67h7zM282.36 323.56l-3.5 5.67h7zM289.29 323.06l-3.5 5.67h7zM296.22 322.61l-3.5 5.67h7zM303.15 322.19l-3.5 5.67h7zM310.08 321.81l-3.5 5.67h7zM317.01 321.44l-3.5 5.67h7zM323.94 321.11l-3.5 5.67h7zM330.87 320.79l-3.5 5.67h7zM337.8 320.49l-3.5 5.67h7zM344.73 320.21l-3.5 5.67h7zM351.66 319.94l-3.5 5.67h7zM358.59 319.69l-3.5 5.67h7zM365.52 319.45l-3.5 5.67h7zM372.45 319.22l-3.5 5.67h7zM379.38 319l-3.5 5.67h7zM386.31 318.8l-3.5 5.67h7zM393.24 318.6l-3.5 5.67h7zM400.17 318.41l-3.5 5.67h7zM407.1 318.23l-3.5 5.67h7zM414.03 318.06l-3.5 5.67h7zM420.96 317.89l-3.5 5.67h7zM427.89 317.74l-3.5 5.67h7zM434.82 317.59l-3.5 5.67h7zM441.75 317.45l-3.5 5.67h7zM448.68 317.31l-3.5 5.67h7zM455.61 317.18l-3.5 5.67h7zM462.54 317.05l-3.5 5.67h7zM469.47 316.93l-3.5 5.67h7zM476.4 316.82l-3.5 5.67h7zM483.33 316.71l-3.5 5.67h7zM490.26 316.61l-3.5 5.67h7zM497.19 316.5l-3.5 5.67h7zM504.12 316.41l-3.5 5.67h7zM511.05 316.32l-3.5 5.67h7zM517.98 316.23l-3.5 5.67h7zM524.91 316.15l-3.5 5.67h7zM531.84 316.07l-3.5 5.67h7zM538.77 315.99l-3.5 5.67h7zM545.7 315.92l-3.5 5.67h7zM552.63 315.84l-3.5 5.67h7zM559.56 315.78l-3.5 5.67h7zM566.49 315.71l-3.5 5.67h7zM573.42 315.65l-3.5 5.67h7zM580.35 315.59l-3.5 5.67h7zM587.28 315.54l-3.5 5.67h7zM594.21 315.48l-3.5 5.67h7zM601.14 315.43l-3.5 5.67h7zM608.07 315.38l-3.5 5.67h7zM615 315.33l-3.5 5.67h7zM621.93 315.29l-3.5 5.67h7zM628.86 315.25l-3.5 5.67h7zM635.79 315.2l-3.5 5.67h7zM642.72 315.16l-3.5 5.67h7zM649.65 315.13l-3.5 5.67h7zM656.58 315.09l-3.5 5.67h7zM663.51 315.06l-3.5 5.67h7zM670.44 315.02l-3.5 5.67h7zM677.37 314.99l-3.5 5.67h7zM684.3 314.96l-3.5 5.67h7zM691.23 314.93l-3.5 5.67h7zM698.16 314.9l-3.5 5.67h7zM705.09 314.88l-3.5 5.67h7zM712.02 314.85l-3.5 5.67h7zM718.95 314.83l-3.5 5.67h7zM725.88 314.8l-3.5 5.67h7zM732.81 314.78l-3.5 5.67h7zM739.74 314.76l-3.5 5.67h7zM746.67 314.74l-3.5 5.67h7zM753.6 314.72l-3.5 5.67h7zM760.53 314.7l-3.5 5.67h7zM767.46 314.68l-3.5 5.67h7zM774.39 314.67l-3.5 5.67h7zM781.32 314.65l-3.5 5.67h7zM788.25 314.63l-3.5 5.67h7z" fill="none" stroke="#ff0000" stroke-width="1.9" stroke-linejoin="miter"/>
<path d="M94.35 497.72h1.8v1.8h-1.8zM101.28 481.66h1.8v1.8h-1.8zM108.21 461.51h1.8v1.8h-1.8zM115.14 443.1h1.8v1.8h-1.8zM122.07 426.3h1.8v1.8h-1.8zM129 411.17h1.8v1.8h-1.8zM135.93 397.82h1.8v1.8h-1.8zM142.86 386.28h1.8v1.8h-1.8zM149.79 376.49h1.8v1.8h-1.8zM156.72 368.32h1.8v1.8h-1.8zM163.65 361.53h1.8v1.8h-1.8zM170.58 355.9h1.8v1.8h-1.8zM177.51 351.18h1.8v1.8h-1.8zM184.44 347.22h1.8v1.8h-1.8zM191.37 343.86h1.8v1.8h-1.8zM198.3 341.02h1.8v1.8h-1.8zM205.23 338.6h1.8v1.8h-1.8zM212.16 336.55h1.8v1.8h-1.8zM219.09 334.8h1.8v1.8h-1.8zM226.02 333.31h1.8v1.8h-1.8zM232.95 332.03h1.8v1.8h-1.8zM239.88 330.93h1.8v1.8h-1.8zM246.81 329.97h1.8v1.8h-1.8zM253.74 329.13h1.8v1.8h-1.8zM260.67 328.38h1.8v1.8h-1.8zM267.6 327.72h1.8v1.8h-1.8zM274.53 327.12h1.8v1.8h-1.8zM281.46 326.58h1.8v1.8h-1.8zM288.39 326.08h1.8v1.8h-1.8zM295.32 325.63h1.8v1.8h-1.8zM302.25 325.21h1.8v1.8h-1.8zM309.18 324.83h1.8v1.8h-1.8zM316.11 324.46h1.8v1.8h-1.8zM323.04 324.13h1.8v1.8h-1.8zM329.97 323.81h1.8v1.8h-1.8zM336.9 323.51h1.8v1.8h-1.8zM343.83 323.23h1.8v1.8h-1.8zM350.76 322.96h1.8v1.8h-1.8zM357.69 322.71h1.8v1.8h-1.8zM364.62 322.47h1.8v1.8h-1.8zM371.55 322.24h1.8v1.8h-1.8zM378.48 322.02h1.8v1.8h-1.8zM385.41 321.82h1.8v1.8h-1.8zM392.34 321.62h1.8v1.8h-1.8zM399.27 321.43h1.8v1.8h-1.8zM406.2 321.25h1.8v1.8h-1.8zM413.13 321.08h1.8v1.8h-1.8zM420.06 320.91h1.8v1.8h-1.8zM426.99 320.76h1.8v1.8h-1.8zM433.92 320.61h1.8v1.8h-1.8zM440.85 320.47h1.8v1.8h-1.8zM447.78 320.33h1.8v1.8h-1.8zM454.71 320.2h1.8v1.8h-1.8zM461.64 320.07h1.8v1.8h-1.8zM468.57 319.95h1.8v1.8h-1.8zM475.5 319.84h1.8v1.8h-1.8zM482.43 319.73h1.8v1.8h-1.8zM489.36 319.63h1.8v1.8h-1.8zM496.29 319.52h1.8v1.8h-1.8zM503.22 319.43h1.8v1.8h-1.8zM510.15 319.34h1.8v1.8h-1.8zM517.08 319.25h1.8v1.8h-1.8zM524.01 319.17h1.8v1.8h-1.8zM530.94 319.09h1.8v1.8h-1.8zM537.87 319.01h1.8v1.8h-1.8zM544.8 318.94h1.8v1.8h-1.8zM551.73 318.86h1.8v1.8h-1.8zM558.66 318.8h1.8v1.8h-1.8zM565.59 318.73h1.8v1.8h-1.8zM572.52 318.67h1.8v1.8h-1.8zM579.45 318.61h1.8v1.8h-1.8zM586.38 318.56h1.8v1.8h-1.8zM593.31 318.5h1.8v1.8h-1.8zM600.24 318.45h1.8v1.8h-1.8zM607.17 318.4h1.8v1.8h-1.8zM614.1 318.35h1.8v1.8h-1.8zM621.03 318.31h1.8v1.8h-1.8zM627.96 318.27h1.8v1.8h-1.8zM634.89 318.22h1.8v1.8h-1.8zM641.82 318.18h1.8v1.8h-1.8zM648.75 318.15h1.8v1.8h-1.8zM655.68 318.11h1.8v1.8h-1.8zM662.61 318.08h1.8v1.8h-1.8zM669.54 318.04h1.8v1.8h-1.8zM676.47 318.01h1.8v1.8h-1.8zM683.4 317.98h1.8v1.8h-1.8zM690.33 317.95h1.8v1.8h-1.8zM697.26 317.92h1.8v1.8h-1.8zM704.19 317.9h1.8v1.8h-1.8zM711.12 317.87h1.8v1.8h-1.8zM718.05 317.85h1.8v1.8h-1.8zM724.98 317.82h1.8v1.8h-1.8zM731.91 317.8h1.8v1.8h-1.8zM738.84 317.78h1.8v1.8h-1.8zM745.77 317.76h1.8v1.8h-1.8zM752.7 317.74h1.8v1.8h-1.8zM759.63 317.72h1.8v1.8h-1.8zM766.56 317.7h1.8v1.8h-1.8zM773.49 317.69h1.8v1.8h-1.8zM780.42 317.67h1.8v1.8h-1.8zM787.35 317.65h1.8v1.8h-1.8z" fill="#ff0000"/>
<path d="M95.25 502.54l-3.5 -5.67h7zM102.18 485.99l-3.5 -5.67h7zM109.11 466.1l-3.5 -5.67h7zM116.04 447.81l-3.5 -5.67h7zM122.97 431.05l-3.5 -5.67h7zM129.9 415.94l-3.5 -5.67h7zM136.83 402.6l-3.5 -5.67h7zM143.76 391.06l-3.5 -5.67h7zM150.69 381.28l-3.5 -5.67h7zM157.62 373.1l-3.5 -5.67h7zM164.55 366.31l-3.5 -5.67h7zM171.48 360.67l-3.5 -5.67h7zM178.41 355.96l-3.5 -5.67h7zM185.34 351.99l-3.5 -5.67h7zM192.27 348.64l-3.5 -5.67h7zM199.2 345.79l-3.5 -5.67h7zM206.13 343.37l-3.5 -5.67h7zM213.06 341.32l-3.5 -5.67h7zM219.99 339.57l-3.5 -5.67h7zM226.92 338.08l-3.5 -5.67h7zM233.85 336.8l-3.5 -5.67h7zM240.78 335.7l-3.5 -5.67h7zM247.71 334.74l-3.5 -5.67h7zM254.64 333.9l-3.5 -5.67h7zM261.57 333.15l-3.5 -5.67h7zM268.5 332.49l-3.5 -5.67h7zM275.43 331.89l-3.5 -5.67h7zM282.36 331.35l-3.5 -5.67h7zM289.29 330.85l-3.5 -5.67h7zM296.22 330.4l-3.5 -5.67h7zM303.15 329.98l-3.5 -5.67h7zM310.08 329.59l-3.5 -5.67h7zM317.01 329.23l-3.5 -5.67h7zM323.94 328.89l-3.5 -5.67h7zM330.87 328.58l-3.5 -5.67h7zM337.8 328.28l-3.5 -5.67h7zM344.73 328l-3.5 -5.67h7zM351.66 327.73l-3.5 -5.67h7zM358.59 327.48l-3.5 -5.67h7zM365.52 327.24l-3.5 -5.67h7zM372.45 327.01l-3.5 -5.67h7zM379.38 326.79l-3.5 -5.67h7zM386.31 326.58l-3.5 -5.67h7zM393.24 326.39l-3.5 -5.67h7zM400.17 326.2l-3.5 -5.67h7zM407.1 326.02l-3.5 -5.67h7zM414.03 325.85l-3.5 -5.67h7zM420.96 325.68l-3.5 -5.67h7zM427.89 325.53l-3.5 -5.67h7zM434.82 325.38l-3.5 -5.67h7zM441.75 325.23l-3.5 -5.67h7zM448.68 325.1l-3.5 -5.67h7zM455.61 324.97l-3.5 -5.67h7zM462.54 324.84l-3.5 -5.67h7zM469.47 324.72l-3.5 -5.67h7zM476.4 324.61l-3.5 -5.67h7zM483.33 324.5l-3.5 -5.67h7zM490.26 324.39l-3.5 -5.67h7zM497.19 324.29l-3.5 -5.67h7zM504.12 324.2l-3.5 -5.67h7zM511.05 324.1l-3.5 -5.67h7zM517.98 324.02l-3.5 -5.67h7zM524.91 323.93l-3.5 -5.67h7zM531.84 323.85l-3.5 -5.67h7zM538.77 323.78l-3.5 -5.67h7zM545.7 323.7l-3.5 -5.67h7zM552.63 323.63l-3.5 -5.67h7zM559.56 323.56l-3.5 -5.67h7zM566.49 323.5l-3.5 -5.67h7zM573.42 323.44l-3.5 -5.67h7zM580.35 323.38l-3.5 -5.67h7zM587.28 323.32l-3.5 -5.67h7zM594.21 323.27l-3.5 -5.67h7zM601.14 323.22l-3.5 -5.67h7zM608.07 323.17l-3.5 -5.67h7zM615 323.12l-3.5 -5.67h7zM621.93 323.08l-3.5 -5.67h7zM628.86 323.03l-3.5 -5.67h7zM635.79 322.99l-3.5 -5.67h7zM642.72 322.95l-3.5 -5.67h7zM649.65 322.91l-3.5 -5.67h7zM656.58 322.88l-3.5 -5.67h7zM663.51 322.84l-3.5 -5.67h7zM670.44 322.81l-3.5 -5.67h7zM677.37 322.78l-3.5 -5.67h7zM684.3 322.75l-3.5 -5.67h7zM691.23 322.72l-3.5 -5.67h7zM698.16 322.69l-3.5 -5.67h7zM705.09 322.66l-3.5 -5.67h7zM712.02 322.64l-3.5 -5.67h7zM718.95 322.61l-3.5 -5.67h7zM725.88 322.59l-3.5 -5.67h7zM732.81 322.57l-3.5 -5.67h7zM739.74 322.55l-3.5 -5.67h7zM746.67 322.53l-3.5 -5.67h7zM753.6 322.51l-3.5 -5.67h7zM760.53 322.49l-3.5 -5.67h7zM767.46 322.47l-3.5 -5.67h7zM774.39 322.45l-3.5 -5.67h7zM781.32 322.44l-3.5 -5.67h7zM788.25 322.42l-3.5 -5.67h7z" fill="none" stroke="#00ffff" stroke-width="1.9" stroke-linejoin="miter"/>
<path d="M94.35 497.72h1.8v1.8h-1.8zM101.28 481.17h1.8v1.8h-1.8zM108.21 461.28h1.8v1.8h-1.8zM115.14 442.99h1.8v1.8h-1.8zM122.07 426.23h1.8v1.8h-1.8zM129 411.12h1.8v1.8h-1.8zM135.93 397.78h1.8v1.8h-1.8zM142.86 386.24h1.8v1.8h-1.8zM149.79 376.46h1.8v1.8h-1.8zM156.72 368.28h1.8v1.8h-1.8zM163.65 361.49h1.8v1.8h-1.8zM170.58 355.85h1.8v1.8h-1.8zM177.51 351.14h1.8v1.8h-1.8zM184.44 347.17h1.8v1.8h-1.8zM191.37 343.82h1.8v1.8h-1.8zM198.3 340.97h1.8v1.8h-1.8zM205.23 338.55h1.8v1.8h-1.8zM212.16 336.5h1.8v1.8h-1.8zM219.09 334.75h1.8v1.8h-1.8zM226.02 333.26h1.8v1.8h-1.8zM232.95 331.98h1.8v1.8h-1.8zM239.88 330.88h1.8v1.8h-1.8zM246.81 329.92h1.8v1.8h-1.8zM253.74 329.08h1.8v1.8h-1.8zM260.67 328.33h1.8v1.8h-1.8zM267.6 327.67h1.8v1.8h-1.8zM274.53 327.07h1.8v1.8h-1.8zM281.46 326.53h1.8v1.8h-1.8zM288.39 326.03h1.8v1.8h-1.8zM295.32 325.58h1.8v1.8h-1.8zM302.25 325.16h1.8v1.8h-1.8zM309.18 324.77h1.8v1.8h-1.8zM316.11 324.41h1.8v1.8h-1.8zM323.04 324.07h1.8v1.8h-1.8zM329.97 323.76h1.8v1.8h-1.8zM336.9 323.46h1.8v1.8h-1.8zM343.83 323.18h1.8v1.8h-1.8zM350.76 322.91h1.8v1.8h-1.8zM357.69 322.66h1.8v1.8h-1.8zM364.62 322.42h1.8v1.8h-1.8zM371.55 322.19h1.8v1.8h-1.8zM378.48 321.97h1.8v1.8h-1.8zM385.41 321.76h1.8v1.8h-1.8zM392.34 321.57h1.8v1.8h-1.8zM399.27 321.38h1.8v1.8h-1.8zM406.2 321.2h1.8v1.8h-1.8zM413.13 321.03h1.8v1.8h-1.8zM420.06 320.86h1.8v1.8h-1.8zM426.99 320.71h1.8v1.8h-1.8zM433.92 320.56h1.8v1.8h-1.8zM440.85 320.41h1.8v1.8h-1.8zM447.78 320.28h1.8v1.8h-1.8zM454.71 320.15h1.8v1.8h-1.8zM461.64 320.02h1.8v1.8h-1.8zM468.57 319.9h1.8v1.8h-1.8zM475.5 319.79h1.8v1.8h-1.8zM482.43 319.68h1.8v1.8h-1.8zM489.36 319.57h1.8v1.8h-1.8zM496.29 319.47h1.8v1.8h-1.8zM503.22 319.38h1.8v1.8h-1.8zM510.15 319.28h1.8v1.8h-1.8zM517.08 319.2h1.8v1.8h-1.8zM524.01 319.11h1.8v1.8h-1.8zM530.94 319.03h1.8v1.8h-1.8zM537.87 318.96h1.8v1.8h-1.8zM544.8 318.88h1.8v1.8h-1.8zM551.73 318.81h1.8v1.8h-1.8zM558.66 318.74h1.8v1.8h-1.8zM565.59 318.68h1.8v1.8h-1.8zM572.52 318.62h1.8v1.8h-1.8zM579.45 318.56h1.8v1.8h-1.8zM586.38 318.5h1.8v1.8h-1.8zM593.31 318.45h1.8v1.8h-1.8zM600.24 318.4h1.8v1.8h-1.8zM607.17 318.35h1.8v1.8h-1.8zM614.1 318.3h1.8v1.8h-1.8zM621.03 318.26h1.8v1.8h-1.8zM627.96 318.21h1.8v1.8h-1.8zM634.89 318.17h1.8v1.8h-1.8zM641.82 318.13h1.8v1.8h-1.8zM648.75 318.09h1.8v1.8h-1.8zM655.68 318.06h1.8v1.8h-1.8zM662.61 318.02h1.8v1.8h-1.8zM669.54 317.99h1.8v1.8h-1.8zM676.47 317.96h1.8v1.8h-1.8zM683.4 317.93h1.8v1.8h-1.8zM690.33 317.9h1.8v1.8h-1.8zM697.26 317.87h1.8v1.8h-1.8zM704.19 317.84h1.8v1.8h-1.8zM711.12 317.82h1.8v1.8h-1.8zM718.05 317.79h1.8v1.8h-1.8zM724.98 317.77h1.8v1.8h-1.8zM731.91 317.75h1.8v1.8h-1.8zM738.84 317.73h1.8v1.8h-1.8zM745.77 317.71h1.8v1.8h-1.8zM752.7 317.69h1.8v1.8h-1.8zM759.63 317.67h1.8v1.8h-1.8zM766.56 317.65h1.8v1.8h-1.8zM773.49 317.63h1.8v1.8h-1.8zM780.42 317.62h1.8v1.8h-1.8zM787.35 317.6h1.8v1.8h-1.8z" fill="#00ffff"/>
<path d="M95.25 277.9V498.65M822.8 277.9V498.65" fill="none" stroke="#000" stroke-width="1.45" stroke-linecap="square"/>
<text x="706.4" y="409.9" text-anchor="end" font-size="26.5"  >100</text>
<path d="M753 397.5h7.0v7.0h-7.0z" fill="none" stroke="#228b22" stroke-width="1.9" stroke-linejoin="miter"/>
<path d="M755.6 400.1h1.8v1.8h-1.8z" fill="#228b22"/>
<text x="706.4" y="435.9" text-anchor="end" font-size="26.5"  >200</text>
<path d="M753 427a3.5 3.5 0 1 0 7.0 0a3.5 3.5 0 1 0 -7.0 0z" fill="none" stroke="#0000ff" stroke-width="1.9" stroke-linejoin="miter"/>
<path d="M755.6 426.1h1.8v1.8h-1.8z" fill="#0000ff"/>
<text x="706.4" y="461.9" text-anchor="end" font-size="26.5"  >400</text>
<path d="M756.5 449.08l-3.5 5.67h7z" fill="none" stroke="#ff0000" stroke-width="1.9" stroke-linejoin="miter"/>
<path d="M755.6 452.1h1.8v1.8h-1.8z" fill="#ff0000"/>
<text x="706.4" y="487.9" text-anchor="end" font-size="26.5"  >800</text>
<path d="M756.5 482.92l-3.5 -5.67h7z" fill="none" stroke="#00ffff" stroke-width="1.9" stroke-linejoin="miter"/>
<path d="M755.6 478.1h1.8v1.8h-1.8z" fill="#00ffff"/>
<g transform="translate(508.4,529.1)"><g transform="translate(-38.3,-19.8)"><path d="M13.3 2.2C12.9 0.5 10.9 0.2 9.9 1.5C9.3 2.3 8.95 3.4 8.7 4.7" fill="none" stroke="#000" stroke-width="1.0" stroke-linecap="round"/><path d="M9.3 2.8C8.7 4.3 8.4 6.3 8.0 8.6L6.7 17.1C6.35 19.4 5.85 21.5 5.1 22.9" fill="none" stroke="#000" stroke-width="1.85" stroke-linecap="round"/><path d="M5.9 20.9C5.4 22.5 4.8 23.7 3.9 24.3C2.7 25.1 1.3 24.6 0.9 23.3" fill="none" stroke="#000" stroke-width="1.0" stroke-linecap="round"/><circle cx="12.85" cy="2.75" r="1.5"/><circle cx="1.5" cy="22.9" r="1.5"/><path d="M3.9 7.9H12.3" stroke="#000" stroke-width="0.95" fill="none"/></g><circle cx="-11.8" cy="-6.5" r="1.75"/><g transform="translate(0,0)"><path d="M-0.3 -0.55H6.4M4.5 -18.5H8.2M17.6 -18.5H23.7" stroke="#000" stroke-width="0.95" fill="none"/><path d="M3.25 -0.7L7.0 -18.3M16.25 0L21.0 -18.3" stroke="#000" stroke-width="1.0" fill="none"/><path d="M6.6 -18.95H9.9L16.9 -2.4L16.45 0.25H15.5z" fill="#000"/></g><g transform="translate(26.2,-9.4) scale(1.12,1)"><text x="0" y="0" font-size="19.8">1</text></g><path d="M39.6 -4.6L49.4 -24.6" stroke="#000" stroke-width="1.15" fill="none"/><g transform="translate(51.6,-9.4) scale(1.12,1)"><text x="0" y="0" font-size="19.8">2</text></g></g>
<g transform="translate(38.7,398.2) rotate(-90)"><text x="-45.3" y="0" font-size="30" font-style="italic">C</text><circle cx="-11.8" cy="-6.5" r="1.75"/><g transform="translate(0,0)"><path d="M-0.3 -0.55H6.4M4.5 -18.5H8.2M17.6 -18.5H23.7" stroke="#000" stroke-width="0.95" fill="none"/><path d="M3.25 -0.7L7.0 -18.3M16.25 0L21.0 -18.3" stroke="#000" stroke-width="1.0" fill="none"/><path d="M6.6 -18.95H9.9L16.9 -2.4L16.45 0.25H15.5z" fill="#000"/></g><g transform="translate(26.2,-9.4) scale(1.12,1)"><text x="0" y="0" font-size="19.8">1</text></g><path d="M39.6 -4.6L49.4 -24.6" stroke="#000" stroke-width="1.15" fill="none"/><g transform="translate(51.6,-9.4) scale(1.12,1)"><text x="0" y="0" font-size="19.8">2</text></g></g>
<rect x="95.25" y="541.7" width="727.55" height="255.0999999999999" fill="none" stroke="#000" stroke-width="1.45"/>
<path d="M129.5 796.8v-7.5M129.5 541.7v7.5M356.51 796.8v-7.5M356.51 541.7v7.5M583.51 796.8v-7.5M583.51 541.7v7.5M810.52 796.8v-7.5M810.52 541.7v7.5" stroke="#000" stroke-width="0.85" fill="none"/>
<path d="M95.25 578.2h7.5M822.8 578.2h-7.5M95.25 651.3h7.5M822.8 651.3h-7.5M95.25 724.4h7.5M822.8 724.4h-7.5" stroke="#000" stroke-width="0.85" fill="none"/>
<path d="M95.25 579.7h3.4M822.8 579.7h-3.4M95.25 581h3.4M822.8 581h-3.4M95.25 582.5h3.4M822.8 582.5h-3.4M95.25 584.5h3.4M822.8 584.5h-3.4M95.25 587.3h3.4M822.8 587.3h-3.4M95.25 590.5h3.4M822.8 590.5h-3.4M95.25 595.4h3.4M822.8 595.4h-3.4M95.25 601.4h3.4M822.8 601.4h-3.4M95.25 611.6h3.4M822.8 611.6h-3.4M95.25 652.8h3.4M822.8 652.8h-3.4M95.25 654.1h3.4M822.8 654.1h-3.4M95.25 655.6h3.4M822.8 655.6h-3.4M95.25 657.6h3.4M822.8 657.6h-3.4M95.25 660.4h3.4M822.8 660.4h-3.4M95.25 663.6h3.4M822.8 663.6h-3.4M95.25 668.5h3.4M822.8 668.5h-3.4M95.25 674.5h3.4M822.8 674.5h-3.4M95.25 684.7h3.4M822.8 684.7h-3.4M95.25 725.9h3.4M822.8 725.9h-3.4M95.25 727.2h3.4M822.8 727.2h-3.4M95.25 728.7h3.4M822.8 728.7h-3.4M95.25 730.7h3.4M822.8 730.7h-3.4M95.25 733.5h3.4M822.8 733.5h-3.4M95.25 736.7h3.4M822.8 736.7h-3.4M95.25 741.6h3.4M822.8 741.6h-3.4M95.25 747.6h3.4M822.8 747.6h-3.4M95.25 757.8h3.4M822.8 757.8h-3.4" stroke="#000" stroke-width="0.75" fill="none"/>
<text x="129.5" y="819.3" text-anchor="middle" font-size="26.5"  >100</text>
<text x="356.51" y="819.3" text-anchor="middle" font-size="26.5"  >200</text>
<text x="583.51" y="819.3" text-anchor="middle" font-size="26.5"  >400</text>
<text x="810.52" y="819.3" text-anchor="middle" font-size="26.5"  >800</text>
<text x="44.3" y="589.4" font-size="26.5">10<tspan dx="-0.5" dy="-13.2" font-size="20.8">-2</tspan></text>
<text x="44.3" y="662.5" font-size="26.5">10<tspan dx="-0.5" dy="-13.2" font-size="20.8">-4</tspan></text>
<text x="44.3" y="735.6" font-size="26.5">10<tspan dx="-0.5" dy="-13.2" font-size="20.8">-6</tspan></text>
<text x="44.3" y="808.7" font-size="26.5">10<tspan dx="-0.5" dy="-13.2" font-size="20.8">-8</tspan></text>
<text x="146.3" y="564.2" text-anchor="middle" font-size="26.5"  >(c)</text>
<g transform="translate(510.6,827.2)"><path d="M-0.3 -0.55H6.4M4.5 -18.5H8.2M17.6 -18.5H23.7" stroke="#000" stroke-width="0.95" fill="none"/><path d="M3.25 -0.7L7.0 -18.3M16.25 0L21.0 -18.3" stroke="#000" stroke-width="1.0" fill="none"/><path d="M6.6 -18.95H9.9L16.9 -2.4L16.45 0.25H15.5z" fill="#000"/></g>
<text transform="translate(33.6,699.1) rotate(-90) scale(1.08,1)" font-size="30" font-style="italic" x="-0.3 22.7 31 35.6">D, R</text>
<path d="M126.1 634.75h7.0v7.0h-7.0zM126.1 638.2h7.0v7.0h-7.0zM126.1 640h7.0v7.0h-7.0zM126.1 641.7h7.0v7.0h-7.0zM126.1 643.4h7.0v7.0h-7.0zM126.1 645.1h7.0v7.0h-7.0zM126.1 646.8h7.0v7.0h-7.0zM126.1 648.5h7.0v7.0h-7.0zM126.1 650.2h7.0v7.0h-7.0zM126.1 651.9h7.0v7.0h-7.0zM126.1 653.6h7.0v7.0h-7.0zM126.1 655.3h7.0v7.0h-7.0zM126.1 657h7.0v7.0h-7.0zM126.1 658.7h7.0v7.0h-7.0zM126.1 660.4h7.0v7.0h-7.0zM126.1 662.1h7.0v7.0h-7.0zM126.1 663.8h7.0v7.0h-7.0zM126.1 665.5h7.0v7.0h-7.0zM126.1 667.2h7.0v7.0h-7.0zM126.1 668.9h7.0v7.0h-7.0zM126.1 670.6h7.0v7.0h-7.0zM126.1 672.3h7.0v7.0h-7.0zM126.1 674h7.0v7.0h-7.0zM126.1 675.7h7.0v7.0h-7.0zM126.1 677.4h7.0v7.0h-7.0zM126.1 679.1h7.0v7.0h-7.0zM126.1 680.8h7.0v7.0h-7.0zM126.1 681h7.0v7.0h-7.0zM126.1 684.1h7.0v7.0h-7.0zM126.1 687.5h7.0v7.0h-7.0zM126.1 693.2h7.0v7.0h-7.0zM126.1 711.2h7.0v7.0h-7.0zM126.1 734.9h7.0v7.0h-7.0z" fill="none" stroke="#228b22" stroke-width="1.9" stroke-linejoin="miter"/>
<path d="M128.7 637.35h1.8v1.8h-1.8zM128.7 640.8h1.8v1.8h-1.8zM128.7 642.6h1.8v1.8h-1.8zM128.7 644.3h1.8v1.8h-1.8zM128.7 646h1.8v1.8h-1.8zM128.7 647.7h1.8v1.8h-1.8zM128.7 649.4h1.8v1.8h-1.8zM128.7 651.1h1.8v1.8h-1.8zM128.7 652.8h1.8v1.8h-1.8zM128.7 654.5h1.8v1.8h-1.8zM128.7 656.2h1.8v1.8h-1.8zM128.7 657.9h1.8v1.8h-1.8zM128.7 659.6h1.8v1.8h-1.8zM128.7 661.3h1.8v1.8h-1.8zM128.7 663h1.8v1.8h-1.8zM128.7 664.7h1.8v1.8h-1.8zM128.7 666.4h1.8v1.8h-1.8zM128.7 668.1h1.8v1.8h-1.8zM128.7 669.8h1.8v1.8h-1.8zM128.7 671.5h1.8v1.8h-1.8zM128.7 673.2h1.8v1.8h-1.8zM128.7 674.9h1.8v1.8h-1.8zM128.7 676.6h1.8v1.8h-1.8zM128.7 678.3h1.8v1.8h-1.8zM128.7 680h1.8v1.8h-1.8zM128.7 681.7h1.8v1.8h-1.8zM128.7 683.4h1.8v1.8h-1.8zM128.7 683.6h1.8v1.8h-1.8zM128.7 686.7h1.8v1.8h-1.8zM128.7 690.1h1.8v1.8h-1.8zM128.7 695.8h1.8v1.8h-1.8zM128.7 713.8h1.8v1.8h-1.8zM128.7 737.5h1.8v1.8h-1.8z" fill="#228b22"/>
<path d="M125.35 573.95h8.1v8.1h-8.1z" fill="#228b22"/>
<path d="M353 660.7a3.5 3.5 0 1 0 7.0 0a3.5 3.5 0 1 0 -7.0 0zM353 662.5a3.5 3.5 0 1 0 7.0 0a3.5 3.5 0 1 0 -7.0 0zM353 664.1a3.5 3.5 0 1 0 7.0 0a3.5 3.5 0 1 0 -7.0 0zM353 665.7a3.5 3.5 0 1 0 7.0 0a3.5 3.5 0 1 0 -7.0 0zM353 667.3a3.5 3.5 0 1 0 7.0 0a3.5 3.5 0 1 0 -7.0 0zM353 668.9a3.5 3.5 0 1 0 7.0 0a3.5 3.5 0 1 0 -7.0 0zM353 670.5a3.5 3.5 0 1 0 7.0 0a3.5 3.5 0 1 0 -7.0 0zM353 672.1a3.5 3.5 0 1 0 7.0 0a3.5 3.5 0 1 0 -7.0 0zM353 673.7a3.5 3.5 0 1 0 7.0 0a3.5 3.5 0 1 0 -7.0 0zM353 675.3a3.5 3.5 0 1 0 7.0 0a3.5 3.5 0 1 0 -7.0 0zM353 676.9a3.5 3.5 0 1 0 7.0 0a3.5 3.5 0 1 0 -7.0 0zM353 678.5a3.5 3.5 0 1 0 7.0 0a3.5 3.5 0 1 0 -7.0 0zM353 680.1a3.5 3.5 0 1 0 7.0 0a3.5 3.5 0 1 0 -7.0 0zM353 681.7a3.5 3.5 0 1 0 7.0 0a3.5 3.5 0 1 0 -7.0 0zM353 683.3a3.5 3.5 0 1 0 7.0 0a3.5 3.5 0 1 0 -7.0 0zM353 684.9a3.5 3.5 0 1 0 7.0 0a3.5 3.5 0 1 0 -7.0 0zM353 686.5a3.5 3.5 0 1 0 7.0 0a3.5 3.5 0 1 0 -7.0 0zM353 688.1a3.5 3.5 0 1 0 7.0 0a3.5 3.5 0 1 0 -7.0 0zM353 689.7a3.5 3.5 0 1 0 7.0 0a3.5 3.5 0 1 0 -7.0 0zM353 691.3a3.5 3.5 0 1 0 7.0 0a3.5 3.5 0 1 0 -7.0 0zM353 692.9a3.5 3.5 0 1 0 7.0 0a3.5 3.5 0 1 0 -7.0 0zM353 694.5a3.5 3.5 0 1 0 7.0 0a3.5 3.5 0 1 0 -7.0 0zM353 696.1a3.5 3.5 0 1 0 7.0 0a3.5 3.5 0 1 0 -7.0 0zM353 697.7a3.5 3.5 0 1 0 7.0 0a3.5 3.5 0 1 0 -7.0 0zM353 699.3a3.5 3.5 0 1 0 7.0 0a3.5 3.5 0 1 0 -7.0 0zM353 700.9a3.5 3.5 0 1 0 7.0 0a3.5 3.5 0 1 0 -7.0 0zM353 702.5a3.5 3.5 0 1 0 7.0 0a3.5 3.5 0 1 0 -7.0 0zM353 704.9a3.5 3.5 0 1 0 7.0 0a3.5 3.5 0 1 0 -7.0 0zM353 706.3a3.5 3.5 0 1 0 7.0 0a3.5 3.5 0 1 0 -7.0 0zM353 729.3a3.5 3.5 0 1 0 7.0 0a3.5 3.5 0 1 0 -7.0 0zM353 741.6a3.5 3.5 0 1 0 7.0 0a3.5 3.5 0 1 0 -7.0 0zM353 770.7a3.5 3.5 0 1 0 7.0 0a3.5 3.5 0 1 0 -7.0 0z" fill="none" stroke="#0000ff" stroke-width="1.9" stroke-linejoin="miter"/>
<path d="M355.6 659.8h1.8v1.8h-1.8zM355.6 661.6h1.8v1.8h-1.8zM355.6 663.2h1.8v1.8h-1.8zM355.6 664.8h1.8v1.8h-1.8zM355.6 666.4h1.8v1.8h-1.8zM355.6 668h1.8v1.8h-1.8zM355.6 669.6h1.8v1.8h-1.8zM355.6 671.2h1.8v1.8h-1.8zM355.6 672.8h1.8v1.8h-1.8zM355.6 674.4h1.8v1.8h-1.8zM355.6 676h1.8v1.8h-1.8zM355.6 677.6h1.8v1.8h-1.8zM355.6 679.2h1.8v1.8h-1.8zM355.6 680.8h1.8v1.8h-1.8zM355.6 682.4h1.8v1.8h-1.8zM355.6 684h1.8v1.8h-1.8zM355.6 685.6h1.8v1.8h-1.8zM355.6 687.2h1.8v1.8h-1.8zM355.6 688.8h1.8v1.8h-1.8zM355.6 690.4h1.8v1.8h-1.8zM355.6 692h1.8v1.8h-1.8zM355.6 693.6h1.8v1.8h-1.8zM355.6 695.2h1.8v1.8h-1.8zM355.6 696.8h1.8v1.8h-1.8zM355.6 698.4h1.8v1.8h-1.8zM355.6 700h1.8v1.8h-1.8zM355.6 701.6h1.8v1.8h-1.8zM355.6 704h1.8v1.8h-1.8zM355.6 705.4h1.8v1.8h-1.8zM355.6 728.4h1.8v1.8h-1.8zM355.6 740.7h1.8v1.8h-1.8zM355.6 769.8h1.8v1.8h-1.8z" fill="#0000ff"/>
<path d="M352.05 589.4a4.45 4.45 0 1 0 8.9 0a4.45 4.45 0 1 0 -8.9 0z" fill="#0000ff"/>
<path d="M583.6 649.98l-3.5 5.67h7zM583.6 651.58l-3.5 5.67h7zM583.6 653.08l-3.5 5.67h7zM583.6 654.58l-3.5 5.67h7zM583.6 656.08l-3.5 5.67h7zM583.6 657.58l-3.5 5.67h7zM583.6 659.08l-3.5 5.67h7zM583.6 660.58l-3.5 5.67h7zM583.6 662.08l-3.5 5.67h7zM583.6 663.58l-3.5 5.67h7zM583.6 665.08l-3.5 5.67h7zM583.6 666.58l-3.5 5.67h7zM583.6 668.08l-3.5 5.67h7zM583.6 669.58l-3.5 5.67h7zM583.6 671.08l-3.5 5.67h7zM583.6 672.58l-3.5 5.67h7zM583.6 674.08l-3.5 5.67h7zM583.6 675.58l-3.5 5.67h7zM583.6 677.08l-3.5 5.67h7zM583.6 679.08l-3.5 5.67h7zM583.6 681.08l-3.5 5.67h7zM583.6 683.08l-3.5 5.67h7zM583.6 685.08l-3.5 5.67h7zM583.6 687.08l-3.5 5.67h7zM583.6 689.08l-3.5 5.67h7zM583.6 691.23l-3.5 5.67h7zM583.6 695.23l-3.5 5.67h7zM583.6 697.03l-3.5 5.67h7zM583.6 699.23l-3.5 5.67h7zM583.6 702.83l-3.5 5.67h7zM583.6 705.03l-3.5 5.67h7zM583.6 711.23l-3.5 5.67h7zM583.6 713.43l-3.5 5.67h7zM583.6 719.23l-3.5 5.67h7z" fill="none" stroke="#ff0000" stroke-width="1.9" stroke-linejoin="miter"/>
<path d="M582.7 653h1.8v1.8h-1.8zM582.7 654.6h1.8v1.8h-1.8zM582.7 656.1h1.8v1.8h-1.8zM582.7 657.6h1.8v1.8h-1.8zM582.7 659.1h1.8v1.8h-1.8zM582.7 660.6h1.8v1.8h-1.8zM582.7 662.1h1.8v1.8h-1.8zM582.7 663.6h1.8v1.8h-1.8zM582.7 665.1h1.8v1.8h-1.8zM582.7 666.6h1.8v1.8h-1.8zM582.7 668.1h1.8v1.8h-1.8zM582.7 669.6h1.8v1.8h-1.8zM582.7 671.1h1.8v1.8h-1.8zM582.7 672.6h1.8v1.8h-1.8zM582.7 674.1h1.8v1.8h-1.8zM582.7 675.6h1.8v1.8h-1.8zM582.7 677.1h1.8v1.8h-1.8zM582.7 678.6h1.8v1.8h-1.8zM582.7 680.1h1.8v1.8h-1.8zM582.7 682.1h1.8v1.8h-1.8zM582.7 684.1h1.8v1.8h-1.8zM582.7 686.1h1.8v1.8h-1.8zM582.7 688.1h1.8v1.8h-1.8zM582.7 690.1h1.8v1.8h-1.8zM582.7 692.1h1.8v1.8h-1.8zM582.7 694.25h1.8v1.8h-1.8zM582.7 698.25h1.8v1.8h-1.8zM582.7 700.05h1.8v1.8h-1.8zM582.7 702.25h1.8v1.8h-1.8zM582.7 705.85h1.8v1.8h-1.8zM582.7 708.05h1.8v1.8h-1.8zM582.7 714.25h1.8v1.8h-1.8zM582.7 716.45h1.8v1.8h-1.8zM582.7 722.25h1.8v1.8h-1.8z" fill="#ff0000"/>
<path d="M583.75 594.8L579.5 603.3H588z" fill="#ff0000"/>
<path d="M810.4 667.62l-3.5 -5.67h7zM810.4 668.92l-3.5 -5.67h7zM810.4 670.32l-3.5 -5.67h7zM810.4 671.72l-3.5 -5.67h7zM810.4 673.12l-3.5 -5.67h7zM810.4 674.52l-3.5 -5.67h7zM810.4 675.92l-3.5 -5.67h7zM810.4 677.32l-3.5 -5.67h7zM810.4 678.72l-3.5 -5.67h7zM810.4 680.12l-3.5 -5.67h7zM810.4 681.52l-3.5 -5.67h7zM810.4 682.92l-3.5 -5.67h7zM810.4 684.32l-3.5 -5.67h7zM810.4 685.72l-3.5 -5.67h7zM810.4 687.12l-3.5 -5.67h7zM810.4 688.52l-3.5 -5.67h7zM810.4 689.92l-3.5 -5.67h7zM810.4 691.32l-3.5 -5.67h7zM810.4 692.72l-3.5 -5.67h7zM810.4 694.12l-3.5 -5.67h7zM810.4 695.52l-3.5 -5.67h7zM810.4 696.92l-3.5 -5.67h7zM810.4 698.32l-3.5 -5.67h7zM810.4 699.72l-3.5 -5.67h7zM810.4 701.12l-3.5 -5.67h7zM810.4 702.52l-3.5 -5.67h7zM810.4 703.92l-3.5 -5.67h7zM810.4 709.82l-3.5 -5.67h7zM810.4 715.62l-3.5 -5.67h7zM810.4 731.02l-3.5 -5.67h7zM810.4 735.92l-3.5 -5.67h7zM810.4 771.82l-3.5 -5.67h7z" fill="none" stroke="#00ffff" stroke-width="1.9" stroke-linejoin="miter"/>
<path d="M809.5 662.8h1.8v1.8h-1.8zM809.5 664.1h1.8v1.8h-1.8zM809.5 665.5h1.8v1.8h-1.8zM809.5 666.9h1.8v1.8h-1.8zM809.5 668.3h1.8v1.8h-1.8zM809.5 669.7h1.8v1.8h-1.8zM809.5 671.1h1.8v1.8h-1.8zM809.5 672.5h1.8v1.8h-1.8zM809.5 673.9h1.8v1.8h-1.8zM809.5 675.3h1.8v1.8h-1.8zM809.5 676.7h1.8v1.8h-1.8zM809.5 678.1h1.8v1.8h-1.8zM809.5 679.5h1.8v1.8h-1.8zM809.5 680.9h1.8v1.8h-1.8zM809.5 682.3h1.8v1.8h-1.8zM809.5 683.7h1.8v1.8h-1.8zM809.5 685.1h1.8v1.8h-1.8zM809.5 686.5h1.8v1.8h-1.8zM809.5 687.9h1.8v1.8h-1.8zM809.5 689.3h1.8v1.8h-1.8zM809.5 690.7h1.8v1.8h-1.8zM809.5 692.1h1.8v1.8h-1.8zM809.5 693.5h1.8v1.8h-1.8zM809.5 694.9h1.8v1.8h-1.8zM809.5 696.3h1.8v1.8h-1.8zM809.5 697.7h1.8v1.8h-1.8zM809.5 699.1h1.8v1.8h-1.8zM809.5 705h1.8v1.8h-1.8zM809.5 710.8h1.8v1.8h-1.8zM809.5 726.2h1.8v1.8h-1.8zM809.5 731.1h1.8v1.8h-1.8zM809.5 767h1.8v1.8h-1.8z" fill="#00ffff"/>
<path d="M810.6 616.5L806.4 608.8H814.8z" fill="#00ffff"/>
<path d="M95.25 576.55L458.1 594.13" stroke="#000" stroke-width="1.6" stroke-dasharray="35.4 17.75" fill="none"/>
<path d="M458.1 594.13L810.5 611.21" stroke="#000" stroke-width="1.6" stroke-dasharray="35.4 17.75" fill="none"/>
</svg>
</body></html>
